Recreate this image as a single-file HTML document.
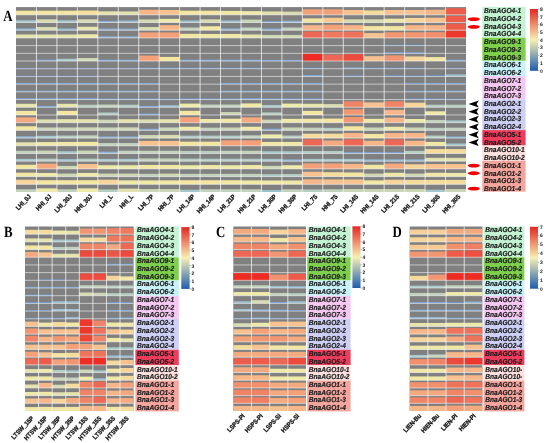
<!DOCTYPE html>
<html><head><meta charset="utf-8"><style>
html,body{margin:0;padding:0;background:#fff;}
body{width:550px;height:443px;overflow:hidden;}
svg{display:block;will-change:transform;text-rendering:geometricPrecision;}
.gl{font-family:"Liberation Sans",sans-serif;font-style:italic;font-weight:bold;font-size:7.3px;fill:#1a1a1a;stroke:#1a1a1a;stroke-width:0.18px;}
.tk{font-family:"Liberation Sans",sans-serif;font-weight:bold;font-size:5.0px;fill:#222;}
.cl{font-family:"Liberation Sans",sans-serif;font-weight:bold;font-size:6.4px;fill:#111;stroke:#111;stroke-width:0.3px;}
.pl{font-family:"Liberation Serif",serif;font-weight:bold;font-size:15.5px;fill:#000;}
</style></head><body>
<svg width="550" height="443" viewBox="0 0 550 443">
<rect x="16.00" y="7.10" width="450.00" height="184.90" fill="#808080"/>
<rect x="16.00" y="10.70" width="20.45" height="4.11" fill="#f3e6a0"/>
<rect x="36.45" y="10.70" width="20.45" height="4.11" fill="#f3e6a0"/>
<rect x="56.91" y="10.70" width="20.45" height="4.11" fill="#f3e6a0"/>
<rect x="77.36" y="10.52" width="20.45" height="4.29" fill="#f5df9e"/>
<rect x="97.82" y="11.34" width="20.45" height="3.47" fill="#e5e4ac"/>
<rect x="118.27" y="11.43" width="20.45" height="3.38" fill="#e1e2ae"/>
<rect x="138.73" y="9.79" width="20.45" height="5.02" fill="#f7b688"/>
<rect x="159.18" y="9.97" width="20.45" height="4.84" fill="#f7c28f"/>
<rect x="179.64" y="10.70" width="20.45" height="4.11" fill="#f3e6a0"/>
<rect x="200.09" y="10.70" width="20.45" height="4.11" fill="#f3e6a0"/>
<rect x="220.55" y="10.88" width="20.45" height="3.92" fill="#f1e8a4"/>
<rect x="241.00" y="11.15" width="20.45" height="3.65" fill="#eeeaaa"/>
<rect x="261.45" y="11.43" width="20.45" height="3.38" fill="#e1e2ae"/>
<rect x="281.91" y="11.61" width="20.45" height="3.19" fill="#d8dcb0"/>
<rect x="302.36" y="9.33" width="20.45" height="5.47" fill="#f4a078"/>
<rect x="322.82" y="9.33" width="20.45" height="5.47" fill="#f4a078"/>
<rect x="343.27" y="9.97" width="20.45" height="4.84" fill="#f7c28f"/>
<rect x="363.73" y="10.42" width="20.45" height="4.38" fill="#f5dc9c"/>
<rect x="384.18" y="9.97" width="20.45" height="4.84" fill="#f7c28f"/>
<rect x="404.64" y="9.97" width="20.45" height="4.84" fill="#f7c28f"/>
<rect x="425.09" y="9.79" width="20.45" height="5.02" fill="#f7b688"/>
<rect x="445.55" y="8.23" width="20.45" height="6.57" fill="#ed5c4a"/>
<rect x="16.00" y="20.23" width="20.45" height="2.28" fill="#a6c8cc"/>
<rect x="36.45" y="19.31" width="20.45" height="3.19" fill="#d8dcb0"/>
<rect x="56.91" y="20.23" width="20.45" height="2.28" fill="#a6c8cc"/>
<rect x="77.36" y="19.31" width="20.45" height="3.19" fill="#d8dcb0"/>
<rect x="97.82" y="20.87" width="20.45" height="1.64" fill="#87add4"/>
<rect x="118.27" y="20.50" width="20.45" height="2.01" fill="#98bcd1"/>
<rect x="138.73" y="19.41" width="20.45" height="3.10" fill="#d4dab2"/>
<rect x="159.18" y="18.86" width="20.45" height="3.65" fill="#eeeaaa"/>
<rect x="179.64" y="20.41" width="20.45" height="2.10" fill="#9dc0cf"/>
<rect x="200.09" y="19.31" width="20.45" height="3.19" fill="#d8dcb0"/>
<rect x="220.55" y="20.41" width="20.45" height="2.10" fill="#9dc0cf"/>
<rect x="241.00" y="19.59" width="20.45" height="2.92" fill="#cbd6b7"/>
<rect x="261.45" y="21.14" width="20.45" height="1.37" fill="#7aa2d4"/>
<rect x="281.91" y="20.68" width="20.45" height="1.82" fill="#8fb4d4"/>
<rect x="302.36" y="18.40" width="20.45" height="4.11" fill="#f3e6a0"/>
<rect x="322.82" y="17.76" width="20.45" height="4.75" fill="#f7c993"/>
<rect x="343.27" y="19.31" width="20.45" height="3.19" fill="#d8dcb0"/>
<rect x="363.73" y="19.31" width="20.45" height="3.19" fill="#d8dcb0"/>
<rect x="384.18" y="18.68" width="20.45" height="3.83" fill="#f0e8a6"/>
<rect x="404.64" y="17.95" width="20.45" height="4.56" fill="#f7d59a"/>
<rect x="425.09" y="17.67" width="20.45" height="4.84" fill="#f7c28f"/>
<rect x="445.55" y="15.94" width="20.45" height="6.57" fill="#ed5c4a"/>
<rect x="16.00" y="28.39" width="20.45" height="1.82" fill="#8fb4d4"/>
<rect x="36.45" y="27.02" width="20.45" height="3.19" fill="#d8dcb0"/>
<rect x="56.91" y="28.39" width="20.45" height="1.82" fill="#8fb4d4"/>
<rect x="77.36" y="26.74" width="20.45" height="3.47" fill="#e5e4ac"/>
<rect x="97.82" y="28.57" width="20.45" height="1.64" fill="#87add4"/>
<rect x="118.27" y="28.57" width="20.45" height="1.64" fill="#87add4"/>
<rect x="138.73" y="27.02" width="20.45" height="3.19" fill="#d8dcb0"/>
<rect x="159.18" y="25.19" width="20.45" height="5.02" fill="#f7b688"/>
<rect x="179.64" y="27.47" width="20.45" height="2.74" fill="#c2d2bc"/>
<rect x="200.09" y="26.29" width="20.45" height="3.92" fill="#f1e8a4"/>
<rect x="220.55" y="28.39" width="20.45" height="1.82" fill="#8fb4d4"/>
<rect x="241.00" y="27.47" width="20.45" height="2.74" fill="#c2d2bc"/>
<rect x="261.45" y="28.57" width="20.45" height="1.64" fill="#87add4"/>
<rect x="281.91" y="27.47" width="20.45" height="2.74" fill="#c2d2bc"/>
<rect x="302.36" y="25.19" width="20.45" height="5.02" fill="#f7b688"/>
<rect x="322.82" y="24.74" width="20.45" height="5.47" fill="#f4a078"/>
<rect x="343.27" y="25.19" width="20.45" height="5.02" fill="#f7b688"/>
<rect x="363.73" y="26.11" width="20.45" height="4.11" fill="#f3e6a0"/>
<rect x="384.18" y="26.11" width="20.45" height="4.11" fill="#f3e6a0"/>
<rect x="404.64" y="25.19" width="20.45" height="5.02" fill="#f7b688"/>
<rect x="425.09" y="25.19" width="20.45" height="5.02" fill="#f7b688"/>
<rect x="445.55" y="23.64" width="20.45" height="6.57" fill="#ed5c4a"/>
<rect x="16.00" y="34.45" width="20.45" height="3.47" fill="#e5e4ac"/>
<rect x="36.45" y="34.45" width="20.45" height="3.47" fill="#e5e4ac"/>
<rect x="56.91" y="34.45" width="20.45" height="3.47" fill="#e5e4ac"/>
<rect x="77.36" y="34.27" width="20.45" height="3.65" fill="#eeeaaa"/>
<rect x="97.82" y="36.27" width="20.45" height="1.64" fill="#87add4"/>
<rect x="118.27" y="36.27" width="20.45" height="1.64" fill="#87add4"/>
<rect x="138.73" y="32.44" width="20.45" height="5.47" fill="#f4a078"/>
<rect x="159.18" y="32.44" width="20.45" height="5.47" fill="#f4a078"/>
<rect x="179.64" y="33.81" width="20.45" height="4.11" fill="#f3e6a0"/>
<rect x="200.09" y="33.99" width="20.45" height="3.92" fill="#f1e8a4"/>
<rect x="220.55" y="33.99" width="20.45" height="3.92" fill="#f1e8a4"/>
<rect x="241.00" y="34.45" width="20.45" height="3.47" fill="#e5e4ac"/>
<rect x="261.45" y="34.91" width="20.45" height="3.01" fill="#cfd8b5"/>
<rect x="281.91" y="34.91" width="20.45" height="3.01" fill="#cfd8b5"/>
<rect x="302.36" y="31.53" width="20.45" height="6.39" fill="#ed6854"/>
<rect x="322.82" y="31.80" width="20.45" height="6.11" fill="#ef795f"/>
<rect x="343.27" y="31.71" width="20.45" height="6.21" fill="#ee735b"/>
<rect x="363.73" y="33.08" width="20.45" height="4.84" fill="#f7c28f"/>
<rect x="384.18" y="32.26" width="20.45" height="5.66" fill="#f29571"/>
<rect x="404.64" y="32.26" width="20.45" height="5.66" fill="#f29571"/>
<rect x="425.09" y="32.17" width="20.45" height="5.75" fill="#f28f6d"/>
<rect x="445.55" y="30.80" width="20.45" height="7.12" fill="#ed382e"/>
<rect x="384.18" y="44.71" width="20.45" height="0.91" fill="#5a88c8"/>
<rect x="404.64" y="44.71" width="20.45" height="0.91" fill="#5a88c8"/>
<rect x="384.18" y="52.14" width="20.45" height="1.19" fill="#6d98cf"/>
<rect x="404.64" y="52.14" width="20.45" height="1.19" fill="#6d98cf"/>
<rect x="36.45" y="59.66" width="20.45" height="1.37" fill="#7aa2d4"/>
<rect x="56.91" y="58.75" width="20.45" height="2.28" fill="#a6c8cc"/>
<rect x="77.36" y="58.02" width="20.45" height="3.01" fill="#cfd8b5"/>
<rect x="97.82" y="59.66" width="20.45" height="1.37" fill="#7aa2d4"/>
<rect x="118.27" y="59.66" width="20.45" height="1.37" fill="#7aa2d4"/>
<rect x="138.73" y="55.55" width="20.45" height="5.47" fill="#f4a078"/>
<rect x="159.18" y="56.92" width="20.45" height="4.11" fill="#f3e6a0"/>
<rect x="179.64" y="59.66" width="20.45" height="1.37" fill="#7aa2d4"/>
<rect x="200.09" y="59.66" width="20.45" height="1.37" fill="#7aa2d4"/>
<rect x="220.55" y="59.66" width="20.45" height="1.37" fill="#7aa2d4"/>
<rect x="241.00" y="59.66" width="20.45" height="1.37" fill="#7aa2d4"/>
<rect x="261.45" y="59.84" width="20.45" height="1.19" fill="#6d98cf"/>
<rect x="281.91" y="59.84" width="20.45" height="1.19" fill="#6d98cf"/>
<rect x="302.36" y="53.73" width="20.45" height="7.30" fill="#ee2c24"/>
<rect x="322.82" y="54.64" width="20.45" height="6.39" fill="#ed6854"/>
<rect x="343.27" y="54.19" width="20.45" height="6.84" fill="#ec4a3c"/>
<rect x="363.73" y="56.19" width="20.45" height="4.84" fill="#f7c28f"/>
<rect x="384.18" y="55.37" width="20.45" height="5.66" fill="#f29571"/>
<rect x="404.64" y="56.47" width="20.45" height="4.56" fill="#f7d59a"/>
<rect x="425.09" y="57.11" width="20.45" height="3.92" fill="#f1e8a4"/>
<rect x="445.55" y="59.66" width="20.45" height="1.37" fill="#7aa2d4"/>
<rect x="16.00" y="67.91" width="20.45" height="0.82" fill="#5584c5"/>
<rect x="36.45" y="67.91" width="20.45" height="0.82" fill="#5584c5"/>
<rect x="56.91" y="67.91" width="20.45" height="0.82" fill="#5584c5"/>
<rect x="77.36" y="67.91" width="20.45" height="0.82" fill="#5584c5"/>
<rect x="97.82" y="67.91" width="20.45" height="0.82" fill="#5584c5"/>
<rect x="118.27" y="67.91" width="20.45" height="0.82" fill="#5584c5"/>
<rect x="138.73" y="67.64" width="20.45" height="1.09" fill="#6792cd"/>
<rect x="159.18" y="67.64" width="20.45" height="1.09" fill="#6792cd"/>
<rect x="179.64" y="67.73" width="20.45" height="1.00" fill="#608dca"/>
<rect x="200.09" y="67.73" width="20.45" height="1.00" fill="#608dca"/>
<rect x="220.55" y="67.73" width="20.45" height="1.00" fill="#608dca"/>
<rect x="241.00" y="67.73" width="20.45" height="1.00" fill="#608dca"/>
<rect x="302.36" y="67.73" width="20.45" height="1.00" fill="#608dca"/>
<rect x="343.27" y="67.36" width="20.45" height="1.37" fill="#7aa2d4"/>
<rect x="363.73" y="67.73" width="20.45" height="1.00" fill="#608dca"/>
<rect x="384.18" y="67.73" width="20.45" height="1.00" fill="#608dca"/>
<rect x="404.64" y="67.73" width="20.45" height="1.00" fill="#608dca"/>
<rect x="445.55" y="67.82" width="20.45" height="0.91" fill="#5a88c8"/>
<rect x="16.00" y="75.62" width="20.45" height="0.82" fill="#5584c5"/>
<rect x="36.45" y="75.62" width="20.45" height="0.82" fill="#5584c5"/>
<rect x="56.91" y="75.62" width="20.45" height="0.82" fill="#5584c5"/>
<rect x="77.36" y="75.62" width="20.45" height="0.82" fill="#5584c5"/>
<rect x="302.36" y="74.98" width="20.45" height="1.46" fill="#7ea6d4"/>
<rect x="343.27" y="75.34" width="20.45" height="1.09" fill="#6792cd"/>
<rect x="384.18" y="75.34" width="20.45" height="1.09" fill="#6792cd"/>
<rect x="404.64" y="75.53" width="20.45" height="0.91" fill="#5a88c8"/>
<rect x="425.09" y="75.34" width="20.45" height="1.09" fill="#6792cd"/>
<rect x="445.55" y="74.34" width="20.45" height="2.10" fill="#9dc0cf"/>
<rect x="16.00" y="82.96" width="20.45" height="1.19" fill="#6d98cf"/>
<rect x="36.45" y="82.96" width="20.45" height="1.19" fill="#6d98cf"/>
<rect x="56.91" y="82.96" width="20.45" height="1.19" fill="#6d98cf"/>
<rect x="77.36" y="82.96" width="20.45" height="1.19" fill="#6d98cf"/>
<rect x="97.82" y="82.96" width="20.45" height="1.19" fill="#6d98cf"/>
<rect x="118.27" y="82.96" width="20.45" height="1.19" fill="#6d98cf"/>
<rect x="138.73" y="82.96" width="20.45" height="1.19" fill="#6d98cf"/>
<rect x="220.55" y="82.96" width="20.45" height="1.19" fill="#6d98cf"/>
<rect x="241.00" y="82.96" width="20.45" height="1.19" fill="#6d98cf"/>
<rect x="261.45" y="82.96" width="20.45" height="1.19" fill="#6d98cf"/>
<rect x="281.91" y="82.96" width="20.45" height="1.19" fill="#6d98cf"/>
<rect x="302.36" y="82.96" width="20.45" height="1.19" fill="#6d98cf"/>
<rect x="404.64" y="83.05" width="20.45" height="1.09" fill="#6792cd"/>
<rect x="425.09" y="82.96" width="20.45" height="1.19" fill="#6d98cf"/>
<rect x="445.55" y="82.96" width="20.45" height="1.19" fill="#6d98cf"/>
<rect x="16.00" y="90.66" width="20.45" height="1.19" fill="#6d98cf"/>
<rect x="36.45" y="90.66" width="20.45" height="1.19" fill="#6d98cf"/>
<rect x="56.91" y="90.66" width="20.45" height="1.19" fill="#6d98cf"/>
<rect x="77.36" y="90.66" width="20.45" height="1.19" fill="#6d98cf"/>
<rect x="97.82" y="90.66" width="20.45" height="1.19" fill="#6d98cf"/>
<rect x="118.27" y="90.66" width="20.45" height="1.19" fill="#6d98cf"/>
<rect x="138.73" y="90.66" width="20.45" height="1.19" fill="#6d98cf"/>
<rect x="220.55" y="90.66" width="20.45" height="1.19" fill="#6d98cf"/>
<rect x="241.00" y="90.66" width="20.45" height="1.19" fill="#6d98cf"/>
<rect x="261.45" y="90.66" width="20.45" height="1.19" fill="#6d98cf"/>
<rect x="281.91" y="90.66" width="20.45" height="1.19" fill="#6d98cf"/>
<rect x="302.36" y="90.66" width="20.45" height="1.19" fill="#6d98cf"/>
<rect x="404.64" y="90.75" width="20.45" height="1.09" fill="#6792cd"/>
<rect x="425.09" y="90.66" width="20.45" height="1.19" fill="#6d98cf"/>
<rect x="445.55" y="90.66" width="20.45" height="1.19" fill="#6d98cf"/>
<rect x="16.00" y="98.18" width="20.45" height="1.37" fill="#7aa2d4"/>
<rect x="36.45" y="98.18" width="20.45" height="1.37" fill="#7aa2d4"/>
<rect x="56.91" y="98.18" width="20.45" height="1.37" fill="#7aa2d4"/>
<rect x="77.36" y="98.18" width="20.45" height="1.37" fill="#7aa2d4"/>
<rect x="97.82" y="98.36" width="20.45" height="1.19" fill="#6d98cf"/>
<rect x="118.27" y="98.36" width="20.45" height="1.19" fill="#6d98cf"/>
<rect x="138.73" y="98.36" width="20.45" height="1.19" fill="#6d98cf"/>
<rect x="159.18" y="98.64" width="20.45" height="0.91" fill="#5a88c8"/>
<rect x="179.64" y="98.36" width="20.45" height="1.19" fill="#6d98cf"/>
<rect x="200.09" y="98.36" width="20.45" height="1.19" fill="#6d98cf"/>
<rect x="220.55" y="98.36" width="20.45" height="1.19" fill="#6d98cf"/>
<rect x="241.00" y="98.18" width="20.45" height="1.37" fill="#7aa2d4"/>
<rect x="261.45" y="98.36" width="20.45" height="1.19" fill="#6d98cf"/>
<rect x="281.91" y="98.36" width="20.45" height="1.19" fill="#6d98cf"/>
<rect x="302.36" y="98.36" width="20.45" height="1.19" fill="#6d98cf"/>
<rect x="404.64" y="98.45" width="20.45" height="1.09" fill="#6792cd"/>
<rect x="425.09" y="98.45" width="20.45" height="1.09" fill="#6792cd"/>
<rect x="445.55" y="98.64" width="20.45" height="0.91" fill="#5a88c8"/>
<rect x="16.00" y="103.79" width="20.45" height="3.47" fill="#e5e4ac"/>
<rect x="36.45" y="105.89" width="20.45" height="1.37" fill="#7aa2d4"/>
<rect x="56.91" y="103.79" width="20.45" height="3.47" fill="#e5e4ac"/>
<rect x="77.36" y="104.70" width="20.45" height="2.55" fill="#b7cec2"/>
<rect x="97.82" y="104.52" width="20.45" height="2.74" fill="#c2d2bc"/>
<rect x="118.27" y="104.70" width="20.45" height="2.55" fill="#b7cec2"/>
<rect x="138.73" y="105.89" width="20.45" height="1.37" fill="#7aa2d4"/>
<rect x="159.18" y="105.16" width="20.45" height="2.10" fill="#9dc0cf"/>
<rect x="179.64" y="103.60" width="20.45" height="3.65" fill="#eeeaaa"/>
<rect x="200.09" y="104.52" width="20.45" height="2.74" fill="#c2d2bc"/>
<rect x="220.55" y="104.52" width="20.45" height="2.74" fill="#c2d2bc"/>
<rect x="241.00" y="103.42" width="20.45" height="3.83" fill="#f0e8a6"/>
<rect x="261.45" y="104.97" width="20.45" height="2.28" fill="#a6c8cc"/>
<rect x="281.91" y="103.60" width="20.45" height="3.65" fill="#eeeaaa"/>
<rect x="302.36" y="103.79" width="20.45" height="3.47" fill="#e5e4ac"/>
<rect x="322.82" y="104.06" width="20.45" height="3.19" fill="#d8dcb0"/>
<rect x="343.27" y="101.32" width="20.45" height="5.93" fill="#f08466"/>
<rect x="363.73" y="102.42" width="20.45" height="4.84" fill="#f7c28f"/>
<rect x="384.18" y="101.32" width="20.45" height="5.93" fill="#f08466"/>
<rect x="404.64" y="102.69" width="20.45" height="4.56" fill="#f7d59a"/>
<rect x="425.09" y="104.70" width="20.45" height="2.55" fill="#b7cec2"/>
<rect x="445.55" y="104.70" width="20.45" height="2.55" fill="#b7cec2"/>
<rect x="16.00" y="110.85" width="20.45" height="4.11" fill="#f3e6a0"/>
<rect x="56.91" y="110.85" width="20.45" height="4.11" fill="#f3e6a0"/>
<rect x="97.82" y="112.49" width="20.45" height="2.46" fill="#b1ccc6"/>
<rect x="138.73" y="113.59" width="20.45" height="1.37" fill="#7aa2d4"/>
<rect x="179.64" y="110.85" width="20.45" height="4.11" fill="#f3e6a0"/>
<rect x="220.55" y="112.04" width="20.45" height="2.92" fill="#cbd6b7"/>
<rect x="261.45" y="112.40" width="20.45" height="2.55" fill="#b7cec2"/>
<rect x="302.36" y="110.85" width="20.45" height="4.11" fill="#f3e6a0"/>
<rect x="343.27" y="109.30" width="20.45" height="5.66" fill="#f29571"/>
<rect x="384.18" y="109.94" width="20.45" height="5.02" fill="#f7b688"/>
<rect x="425.09" y="111.31" width="20.45" height="3.65" fill="#eeeaaa"/>
<rect x="16.00" y="117.37" width="20.45" height="5.29" fill="#f5a97e"/>
<rect x="36.45" y="119.38" width="20.45" height="3.29" fill="#dcdfaf"/>
<rect x="56.91" y="119.19" width="20.45" height="3.47" fill="#e5e4ac"/>
<rect x="77.36" y="119.19" width="20.45" height="3.47" fill="#e5e4ac"/>
<rect x="97.82" y="119.65" width="20.45" height="3.01" fill="#cfd8b5"/>
<rect x="118.27" y="119.19" width="20.45" height="3.47" fill="#e5e4ac"/>
<rect x="138.73" y="119.38" width="20.45" height="3.29" fill="#dcdfaf"/>
<rect x="159.18" y="119.19" width="20.45" height="3.47" fill="#e5e4ac"/>
<rect x="179.64" y="117.19" width="20.45" height="5.47" fill="#f4a078"/>
<rect x="200.09" y="119.01" width="20.45" height="3.65" fill="#eeeaaa"/>
<rect x="220.55" y="118.74" width="20.45" height="3.92" fill="#f1e8a4"/>
<rect x="241.00" y="117.37" width="20.45" height="5.29" fill="#f5a97e"/>
<rect x="261.45" y="119.65" width="20.45" height="3.01" fill="#cfd8b5"/>
<rect x="281.91" y="118.83" width="20.45" height="3.83" fill="#f0e8a6"/>
<rect x="302.36" y="118.74" width="20.45" height="3.92" fill="#f1e8a4"/>
<rect x="322.82" y="118.56" width="20.45" height="4.11" fill="#f3e6a0"/>
<rect x="343.27" y="117.00" width="20.45" height="5.66" fill="#f29571"/>
<rect x="363.73" y="118.83" width="20.45" height="3.83" fill="#f0e8a6"/>
<rect x="384.18" y="117.64" width="20.45" height="5.02" fill="#f7b688"/>
<rect x="404.64" y="119.01" width="20.45" height="3.65" fill="#eeeaaa"/>
<rect x="425.09" y="119.92" width="20.45" height="2.74" fill="#c2d2bc"/>
<rect x="445.55" y="120.38" width="20.45" height="2.28" fill="#a6c8cc"/>
<rect x="16.00" y="126.26" width="20.45" height="4.11" fill="#f3e6a0"/>
<rect x="36.45" y="127.45" width="20.45" height="2.92" fill="#cbd6b7"/>
<rect x="56.91" y="127.45" width="20.45" height="2.92" fill="#cbd6b7"/>
<rect x="77.36" y="127.36" width="20.45" height="3.01" fill="#cfd8b5"/>
<rect x="97.82" y="127.45" width="20.45" height="2.92" fill="#cbd6b7"/>
<rect x="118.27" y="127.36" width="20.45" height="3.01" fill="#cfd8b5"/>
<rect x="138.73" y="128.72" width="20.45" height="1.64" fill="#87add4"/>
<rect x="159.18" y="127.45" width="20.45" height="2.92" fill="#cbd6b7"/>
<rect x="179.64" y="126.72" width="20.45" height="3.65" fill="#eeeaaa"/>
<rect x="200.09" y="127.63" width="20.45" height="2.74" fill="#c2d2bc"/>
<rect x="220.55" y="127.45" width="20.45" height="2.92" fill="#cbd6b7"/>
<rect x="241.00" y="126.72" width="20.45" height="3.65" fill="#eeeaaa"/>
<rect x="261.45" y="128.72" width="20.45" height="1.64" fill="#87add4"/>
<rect x="281.91" y="127.45" width="20.45" height="2.92" fill="#cbd6b7"/>
<rect x="302.36" y="127.63" width="20.45" height="2.74" fill="#c2d2bc"/>
<rect x="322.82" y="127.81" width="20.45" height="2.55" fill="#b7cec2"/>
<rect x="343.27" y="126.26" width="20.45" height="4.11" fill="#f3e6a0"/>
<rect x="363.73" y="127.45" width="20.45" height="2.92" fill="#cbd6b7"/>
<rect x="384.18" y="126.72" width="20.45" height="3.65" fill="#eeeaaa"/>
<rect x="404.64" y="127.45" width="20.45" height="2.92" fill="#cbd6b7"/>
<rect x="425.09" y="127.81" width="20.45" height="2.55" fill="#b7cec2"/>
<rect x="445.55" y="127.63" width="20.45" height="2.74" fill="#c2d2bc"/>
<rect x="16.00" y="136.25" width="20.45" height="1.82" fill="#8fb4d4"/>
<rect x="36.45" y="135.79" width="20.45" height="2.28" fill="#a6c8cc"/>
<rect x="56.91" y="135.52" width="20.45" height="2.55" fill="#b7cec2"/>
<rect x="77.36" y="135.33" width="20.45" height="2.74" fill="#c2d2bc"/>
<rect x="97.82" y="136.43" width="20.45" height="1.64" fill="#87add4"/>
<rect x="118.27" y="136.43" width="20.45" height="1.64" fill="#87add4"/>
<rect x="138.73" y="135.06" width="20.45" height="3.01" fill="#cfd8b5"/>
<rect x="159.18" y="134.88" width="20.45" height="3.19" fill="#d8dcb0"/>
<rect x="179.64" y="135.61" width="20.45" height="2.46" fill="#b1ccc6"/>
<rect x="200.09" y="135.61" width="20.45" height="2.46" fill="#b1ccc6"/>
<rect x="220.55" y="135.61" width="20.45" height="2.46" fill="#b1ccc6"/>
<rect x="241.00" y="135.33" width="20.45" height="2.74" fill="#c2d2bc"/>
<rect x="261.45" y="134.42" width="20.45" height="3.65" fill="#eeeaaa"/>
<rect x="281.91" y="135.52" width="20.45" height="2.55" fill="#b7cec2"/>
<rect x="302.36" y="133.69" width="20.45" height="4.38" fill="#f5dc9c"/>
<rect x="322.82" y="133.69" width="20.45" height="4.38" fill="#f5dc9c"/>
<rect x="343.27" y="133.05" width="20.45" height="5.02" fill="#f7b688"/>
<rect x="363.73" y="133.96" width="20.45" height="4.11" fill="#f3e6a0"/>
<rect x="384.18" y="133.05" width="20.45" height="5.02" fill="#f7b688"/>
<rect x="404.64" y="133.05" width="20.45" height="5.02" fill="#f7b688"/>
<rect x="425.09" y="135.52" width="20.45" height="2.55" fill="#b7cec2"/>
<rect x="445.55" y="136.43" width="20.45" height="1.64" fill="#87add4"/>
<rect x="16.00" y="142.31" width="20.45" height="3.47" fill="#e5e4ac"/>
<rect x="36.45" y="142.12" width="20.45" height="3.65" fill="#eeeaaa"/>
<rect x="56.91" y="141.94" width="20.45" height="3.83" fill="#f0e8a6"/>
<rect x="77.36" y="141.85" width="20.45" height="3.92" fill="#f1e8a4"/>
<rect x="97.82" y="143.04" width="20.45" height="2.74" fill="#c2d2bc"/>
<rect x="118.27" y="143.04" width="20.45" height="2.74" fill="#c2d2bc"/>
<rect x="138.73" y="140.94" width="20.45" height="4.84" fill="#f7c28f"/>
<rect x="159.18" y="140.94" width="20.45" height="4.84" fill="#f7c28f"/>
<rect x="179.64" y="141.67" width="20.45" height="4.11" fill="#f3e6a0"/>
<rect x="200.09" y="141.67" width="20.45" height="4.11" fill="#f3e6a0"/>
<rect x="220.55" y="140.30" width="20.45" height="5.47" fill="#f4a078"/>
<rect x="241.00" y="140.30" width="20.45" height="5.47" fill="#f4a078"/>
<rect x="261.45" y="141.94" width="20.45" height="3.83" fill="#f0e8a6"/>
<rect x="281.91" y="141.94" width="20.45" height="3.83" fill="#f0e8a6"/>
<rect x="302.36" y="139.39" width="20.45" height="6.39" fill="#ed6854"/>
<rect x="322.82" y="140.48" width="20.45" height="5.29" fill="#f5a97e"/>
<rect x="343.27" y="139.39" width="20.45" height="6.39" fill="#ed6854"/>
<rect x="363.73" y="140.76" width="20.45" height="5.02" fill="#f7b688"/>
<rect x="384.18" y="139.39" width="20.45" height="6.39" fill="#ed6854"/>
<rect x="404.64" y="140.76" width="20.45" height="5.02" fill="#f7b688"/>
<rect x="425.09" y="141.94" width="20.45" height="3.83" fill="#f0e8a6"/>
<rect x="445.55" y="143.49" width="20.45" height="2.28" fill="#a6c8cc"/>
<rect x="16.00" y="150.74" width="20.45" height="2.74" fill="#c2d2bc"/>
<rect x="36.45" y="150.56" width="20.45" height="2.92" fill="#cbd6b7"/>
<rect x="56.91" y="151.20" width="20.45" height="2.28" fill="#a6c8cc"/>
<rect x="77.36" y="150.56" width="20.45" height="2.92" fill="#cbd6b7"/>
<rect x="97.82" y="151.65" width="20.45" height="1.82" fill="#8fb4d4"/>
<rect x="118.27" y="150.74" width="20.45" height="2.74" fill="#c2d2bc"/>
<rect x="138.73" y="150.74" width="20.45" height="2.74" fill="#c2d2bc"/>
<rect x="159.18" y="150.74" width="20.45" height="2.74" fill="#c2d2bc"/>
<rect x="179.64" y="150.92" width="20.45" height="2.55" fill="#b7cec2"/>
<rect x="200.09" y="150.92" width="20.45" height="2.55" fill="#b7cec2"/>
<rect x="220.55" y="150.74" width="20.45" height="2.74" fill="#c2d2bc"/>
<rect x="241.00" y="150.74" width="20.45" height="2.74" fill="#c2d2bc"/>
<rect x="261.45" y="151.20" width="20.45" height="2.28" fill="#a6c8cc"/>
<rect x="281.91" y="151.20" width="20.45" height="2.28" fill="#a6c8cc"/>
<rect x="302.36" y="151.02" width="20.45" height="2.46" fill="#b1ccc6"/>
<rect x="322.82" y="151.02" width="20.45" height="2.46" fill="#b1ccc6"/>
<rect x="343.27" y="152.11" width="20.45" height="1.37" fill="#7aa2d4"/>
<rect x="363.73" y="152.11" width="20.45" height="1.37" fill="#7aa2d4"/>
<rect x="384.18" y="152.11" width="20.45" height="1.37" fill="#7aa2d4"/>
<rect x="404.64" y="150.92" width="20.45" height="2.55" fill="#b7cec2"/>
<rect x="425.09" y="149.10" width="20.45" height="4.38" fill="#f5dc9c"/>
<rect x="445.55" y="149.10" width="20.45" height="4.38" fill="#f5dc9c"/>
<rect x="16.00" y="158.90" width="20.45" height="2.28" fill="#a6c8cc"/>
<rect x="36.45" y="158.63" width="20.45" height="2.55" fill="#b7cec2"/>
<rect x="56.91" y="159.08" width="20.45" height="2.10" fill="#9dc0cf"/>
<rect x="77.36" y="158.63" width="20.45" height="2.55" fill="#b7cec2"/>
<rect x="97.82" y="158.90" width="20.45" height="2.28" fill="#a6c8cc"/>
<rect x="118.27" y="158.90" width="20.45" height="2.28" fill="#a6c8cc"/>
<rect x="138.73" y="158.45" width="20.45" height="2.74" fill="#c2d2bc"/>
<rect x="159.18" y="158.45" width="20.45" height="2.74" fill="#c2d2bc"/>
<rect x="179.64" y="158.63" width="20.45" height="2.55" fill="#b7cec2"/>
<rect x="200.09" y="158.72" width="20.45" height="2.46" fill="#b1ccc6"/>
<rect x="220.55" y="158.72" width="20.45" height="2.46" fill="#b1ccc6"/>
<rect x="241.00" y="158.72" width="20.45" height="2.46" fill="#b1ccc6"/>
<rect x="261.45" y="158.90" width="20.45" height="2.28" fill="#a6c8cc"/>
<rect x="281.91" y="159.36" width="20.45" height="1.82" fill="#8fb4d4"/>
<rect x="302.36" y="158.90" width="20.45" height="2.28" fill="#a6c8cc"/>
<rect x="322.82" y="158.90" width="20.45" height="2.28" fill="#a6c8cc"/>
<rect x="343.27" y="158.90" width="20.45" height="2.28" fill="#a6c8cc"/>
<rect x="363.73" y="159.36" width="20.45" height="1.82" fill="#8fb4d4"/>
<rect x="384.18" y="159.36" width="20.45" height="1.82" fill="#8fb4d4"/>
<rect x="404.64" y="159.36" width="20.45" height="1.82" fill="#8fb4d4"/>
<rect x="425.09" y="157.81" width="20.45" height="3.38" fill="#e1e2ae"/>
<rect x="445.55" y="157.81" width="20.45" height="3.38" fill="#e1e2ae"/>
<rect x="16.00" y="164.78" width="20.45" height="4.11" fill="#f3e6a0"/>
<rect x="36.45" y="163.59" width="20.45" height="5.29" fill="#f5a97e"/>
<rect x="56.91" y="165.88" width="20.45" height="3.01" fill="#cfd8b5"/>
<rect x="77.36" y="164.05" width="20.45" height="4.84" fill="#f7c28f"/>
<rect x="97.82" y="165.24" width="20.45" height="3.65" fill="#eeeaaa"/>
<rect x="118.27" y="165.24" width="20.45" height="3.65" fill="#eeeaaa"/>
<rect x="138.73" y="164.96" width="20.45" height="3.92" fill="#f1e8a4"/>
<rect x="159.18" y="164.96" width="20.45" height="3.92" fill="#f1e8a4"/>
<rect x="179.64" y="165.24" width="20.45" height="3.65" fill="#eeeaaa"/>
<rect x="200.09" y="165.05" width="20.45" height="3.83" fill="#f0e8a6"/>
<rect x="220.55" y="165.24" width="20.45" height="3.65" fill="#eeeaaa"/>
<rect x="241.00" y="165.05" width="20.45" height="3.83" fill="#f0e8a6"/>
<rect x="261.45" y="165.88" width="20.45" height="3.01" fill="#cfd8b5"/>
<rect x="281.91" y="165.24" width="20.45" height="3.65" fill="#eeeaaa"/>
<rect x="302.36" y="163.41" width="20.45" height="5.47" fill="#f4a078"/>
<rect x="322.82" y="163.41" width="20.45" height="5.47" fill="#f4a078"/>
<rect x="343.27" y="163.87" width="20.45" height="5.02" fill="#f7b688"/>
<rect x="363.73" y="164.78" width="20.45" height="4.11" fill="#f3e6a0"/>
<rect x="384.18" y="163.59" width="20.45" height="5.29" fill="#f5a97e"/>
<rect x="404.64" y="164.32" width="20.45" height="4.56" fill="#f7d59a"/>
<rect x="425.09" y="164.05" width="20.45" height="4.84" fill="#f7c28f"/>
<rect x="445.55" y="164.05" width="20.45" height="4.84" fill="#f7c28f"/>
<rect x="16.00" y="172.67" width="20.45" height="3.92" fill="#f1e8a4"/>
<rect x="36.45" y="172.94" width="20.45" height="3.65" fill="#eeeaaa"/>
<rect x="56.91" y="173.58" width="20.45" height="3.01" fill="#cfd8b5"/>
<rect x="77.36" y="172.94" width="20.45" height="3.65" fill="#eeeaaa"/>
<rect x="97.82" y="173.58" width="20.45" height="3.01" fill="#cfd8b5"/>
<rect x="118.27" y="173.58" width="20.45" height="3.01" fill="#cfd8b5"/>
<rect x="138.73" y="173.85" width="20.45" height="2.74" fill="#c2d2bc"/>
<rect x="159.18" y="173.58" width="20.45" height="3.01" fill="#cfd8b5"/>
<rect x="179.64" y="173.85" width="20.45" height="2.74" fill="#c2d2bc"/>
<rect x="200.09" y="173.85" width="20.45" height="2.74" fill="#c2d2bc"/>
<rect x="220.55" y="173.85" width="20.45" height="2.74" fill="#c2d2bc"/>
<rect x="241.00" y="173.85" width="20.45" height="2.74" fill="#c2d2bc"/>
<rect x="261.45" y="174.13" width="20.45" height="2.46" fill="#b1ccc6"/>
<rect x="281.91" y="174.04" width="20.45" height="2.55" fill="#b7cec2"/>
<rect x="302.36" y="171.76" width="20.45" height="4.84" fill="#f7c28f"/>
<rect x="322.82" y="172.21" width="20.45" height="4.38" fill="#f5dc9c"/>
<rect x="343.27" y="172.49" width="20.45" height="4.11" fill="#f3e6a0"/>
<rect x="363.73" y="173.58" width="20.45" height="3.01" fill="#cfd8b5"/>
<rect x="384.18" y="172.76" width="20.45" height="3.83" fill="#f0e8a6"/>
<rect x="404.64" y="173.58" width="20.45" height="3.01" fill="#cfd8b5"/>
<rect x="425.09" y="172.76" width="20.45" height="3.83" fill="#f0e8a6"/>
<rect x="445.55" y="172.94" width="20.45" height="3.65" fill="#eeeaaa"/>
<rect x="16.00" y="179.73" width="20.45" height="4.56" fill="#f7d59a"/>
<rect x="36.45" y="180.19" width="20.45" height="4.11" fill="#f3e6a0"/>
<rect x="56.91" y="180.19" width="20.45" height="4.11" fill="#f3e6a0"/>
<rect x="77.36" y="180.19" width="20.45" height="4.11" fill="#f3e6a0"/>
<rect x="97.82" y="179.73" width="20.45" height="4.56" fill="#f7d59a"/>
<rect x="118.27" y="180.37" width="20.45" height="3.92" fill="#f1e8a4"/>
<rect x="138.73" y="180.37" width="20.45" height="3.92" fill="#f1e8a4"/>
<rect x="159.18" y="180.37" width="20.45" height="3.92" fill="#f1e8a4"/>
<rect x="179.64" y="180.19" width="20.45" height="4.11" fill="#f3e6a0"/>
<rect x="200.09" y="180.19" width="20.45" height="4.11" fill="#f3e6a0"/>
<rect x="220.55" y="180.19" width="20.45" height="4.11" fill="#f3e6a0"/>
<rect x="241.00" y="180.37" width="20.45" height="3.92" fill="#f1e8a4"/>
<rect x="261.45" y="180.46" width="20.45" height="3.83" fill="#f0e8a6"/>
<rect x="281.91" y="180.46" width="20.45" height="3.83" fill="#f0e8a6"/>
<rect x="302.36" y="179.28" width="20.45" height="5.02" fill="#f7b688"/>
<rect x="322.82" y="179.46" width="20.45" height="4.84" fill="#f7c28f"/>
<rect x="343.27" y="179.46" width="20.45" height="4.84" fill="#f7c28f"/>
<rect x="363.73" y="180.37" width="20.45" height="3.92" fill="#f1e8a4"/>
<rect x="384.18" y="179.73" width="20.45" height="4.56" fill="#f7d59a"/>
<rect x="404.64" y="179.92" width="20.45" height="4.38" fill="#f5dc9c"/>
<rect x="425.09" y="179.92" width="20.45" height="4.38" fill="#f5dc9c"/>
<rect x="445.55" y="179.92" width="20.45" height="4.38" fill="#f5dc9c"/>
<rect x="16.00" y="189.26" width="20.45" height="2.74" fill="#c2d2bc"/>
<rect x="36.45" y="188.35" width="20.45" height="3.65" fill="#eeeaaa"/>
<rect x="56.91" y="189.26" width="20.45" height="2.74" fill="#c2d2bc"/>
<rect x="77.36" y="188.35" width="20.45" height="3.65" fill="#eeeaaa"/>
<rect x="97.82" y="189.44" width="20.45" height="2.55" fill="#b7cec2"/>
<rect x="118.27" y="188.62" width="20.45" height="3.38" fill="#e1e2ae"/>
<rect x="138.73" y="189.08" width="20.45" height="2.92" fill="#cbd6b7"/>
<rect x="159.18" y="189.08" width="20.45" height="2.92" fill="#cbd6b7"/>
<rect x="179.64" y="189.72" width="20.45" height="2.28" fill="#a6c8cc"/>
<rect x="200.09" y="189.26" width="20.45" height="2.74" fill="#c2d2bc"/>
<rect x="220.55" y="189.26" width="20.45" height="2.74" fill="#c2d2bc"/>
<rect x="241.00" y="189.26" width="20.45" height="2.74" fill="#c2d2bc"/>
<rect x="261.45" y="189.90" width="20.45" height="2.10" fill="#9dc0cf"/>
<rect x="281.91" y="189.26" width="20.45" height="2.74" fill="#c2d2bc"/>
<rect x="302.36" y="189.44" width="20.45" height="2.55" fill="#b7cec2"/>
<rect x="322.82" y="189.26" width="20.45" height="2.74" fill="#c2d2bc"/>
<rect x="343.27" y="189.08" width="20.45" height="2.92" fill="#cbd6b7"/>
<rect x="363.73" y="189.08" width="20.45" height="2.92" fill="#cbd6b7"/>
<rect x="384.18" y="189.08" width="20.45" height="2.92" fill="#cbd6b7"/>
<rect x="404.64" y="189.08" width="20.45" height="2.92" fill="#cbd6b7"/>
<rect x="425.09" y="189.72" width="20.45" height="2.28" fill="#a6c8cc"/>
<rect x="445.55" y="189.08" width="20.45" height="2.92" fill="#cbd6b7"/>
<line x1="16.00" x2="466.00" y1="14.80" y2="14.80" stroke="#fff" stroke-opacity="0.7" stroke-width="0.8"/>
<line x1="16.00" x2="466.00" y1="22.51" y2="22.51" stroke="#fff" stroke-opacity="0.7" stroke-width="0.8"/>
<line x1="16.00" x2="466.00" y1="30.21" y2="30.21" stroke="#fff" stroke-opacity="0.7" stroke-width="0.8"/>
<line x1="16.00" x2="466.00" y1="37.92" y2="37.92" stroke="#fff" stroke-opacity="0.7" stroke-width="0.8"/>
<line x1="16.00" x2="466.00" y1="45.62" y2="45.62" stroke="#fff" stroke-opacity="0.7" stroke-width="0.8"/>
<line x1="16.00" x2="466.00" y1="53.33" y2="53.33" stroke="#fff" stroke-opacity="0.7" stroke-width="0.8"/>
<line x1="16.00" x2="466.00" y1="61.03" y2="61.03" stroke="#fff" stroke-opacity="0.7" stroke-width="0.8"/>
<line x1="16.00" x2="466.00" y1="68.73" y2="68.73" stroke="#fff" stroke-opacity="0.7" stroke-width="0.8"/>
<line x1="16.00" x2="466.00" y1="76.44" y2="76.44" stroke="#fff" stroke-opacity="0.7" stroke-width="0.8"/>
<line x1="16.00" x2="466.00" y1="84.14" y2="84.14" stroke="#fff" stroke-opacity="0.7" stroke-width="0.8"/>
<line x1="16.00" x2="466.00" y1="91.85" y2="91.85" stroke="#fff" stroke-opacity="0.7" stroke-width="0.8"/>
<line x1="16.00" x2="466.00" y1="99.55" y2="99.55" stroke="#fff" stroke-opacity="0.7" stroke-width="0.8"/>
<line x1="16.00" x2="466.00" y1="107.25" y2="107.25" stroke="#fff" stroke-opacity="0.7" stroke-width="0.8"/>
<line x1="16.00" x2="466.00" y1="114.96" y2="114.96" stroke="#fff" stroke-opacity="0.7" stroke-width="0.8"/>
<line x1="16.00" x2="466.00" y1="122.66" y2="122.66" stroke="#fff" stroke-opacity="0.7" stroke-width="0.8"/>
<line x1="16.00" x2="466.00" y1="130.37" y2="130.37" stroke="#fff" stroke-opacity="0.7" stroke-width="0.8"/>
<line x1="16.00" x2="466.00" y1="138.07" y2="138.07" stroke="#fff" stroke-opacity="0.7" stroke-width="0.8"/>
<line x1="16.00" x2="466.00" y1="145.78" y2="145.78" stroke="#fff" stroke-opacity="0.7" stroke-width="0.8"/>
<line x1="16.00" x2="466.00" y1="153.48" y2="153.48" stroke="#fff" stroke-opacity="0.7" stroke-width="0.8"/>
<line x1="16.00" x2="466.00" y1="161.18" y2="161.18" stroke="#fff" stroke-opacity="0.7" stroke-width="0.8"/>
<line x1="16.00" x2="466.00" y1="168.89" y2="168.89" stroke="#fff" stroke-opacity="0.7" stroke-width="0.8"/>
<line x1="16.00" x2="466.00" y1="176.59" y2="176.59" stroke="#fff" stroke-opacity="0.7" stroke-width="0.8"/>
<line x1="16.00" x2="466.00" y1="184.30" y2="184.30" stroke="#fff" stroke-opacity="0.7" stroke-width="0.8"/>
<line x1="36.45" x2="36.45" y1="7.10" y2="192.00" stroke="#fff" stroke-opacity="0.8" stroke-width="0.9"/>
<line x1="56.91" x2="56.91" y1="7.10" y2="192.00" stroke="#fff" stroke-opacity="0.8" stroke-width="0.9"/>
<line x1="77.36" x2="77.36" y1="7.10" y2="192.00" stroke="#fff" stroke-opacity="0.8" stroke-width="0.9"/>
<line x1="97.82" x2="97.82" y1="7.10" y2="192.00" stroke="#fff" stroke-opacity="0.8" stroke-width="0.9"/>
<line x1="118.27" x2="118.27" y1="7.10" y2="192.00" stroke="#fff" stroke-opacity="0.8" stroke-width="0.9"/>
<line x1="138.73" x2="138.73" y1="7.10" y2="192.00" stroke="#fff" stroke-opacity="0.8" stroke-width="0.9"/>
<line x1="159.18" x2="159.18" y1="7.10" y2="192.00" stroke="#fff" stroke-opacity="0.8" stroke-width="0.9"/>
<line x1="179.64" x2="179.64" y1="7.10" y2="192.00" stroke="#fff" stroke-opacity="0.8" stroke-width="0.9"/>
<line x1="200.09" x2="200.09" y1="7.10" y2="192.00" stroke="#fff" stroke-opacity="0.8" stroke-width="0.9"/>
<line x1="220.55" x2="220.55" y1="7.10" y2="192.00" stroke="#fff" stroke-opacity="0.8" stroke-width="0.9"/>
<line x1="241.00" x2="241.00" y1="7.10" y2="192.00" stroke="#fff" stroke-opacity="0.8" stroke-width="0.9"/>
<line x1="261.45" x2="261.45" y1="7.10" y2="192.00" stroke="#fff" stroke-opacity="0.8" stroke-width="0.9"/>
<line x1="281.91" x2="281.91" y1="7.10" y2="192.00" stroke="#fff" stroke-opacity="0.8" stroke-width="0.9"/>
<line x1="302.36" x2="302.36" y1="7.10" y2="192.00" stroke="#fff" stroke-opacity="0.8" stroke-width="0.9"/>
<line x1="322.82" x2="322.82" y1="7.10" y2="192.00" stroke="#fff" stroke-opacity="0.8" stroke-width="0.9"/>
<line x1="343.27" x2="343.27" y1="7.10" y2="192.00" stroke="#fff" stroke-opacity="0.8" stroke-width="0.9"/>
<line x1="363.73" x2="363.73" y1="7.10" y2="192.00" stroke="#fff" stroke-opacity="0.8" stroke-width="0.9"/>
<line x1="384.18" x2="384.18" y1="7.10" y2="192.00" stroke="#fff" stroke-opacity="0.8" stroke-width="0.9"/>
<line x1="404.64" x2="404.64" y1="7.10" y2="192.00" stroke="#fff" stroke-opacity="0.8" stroke-width="0.9"/>
<line x1="425.09" x2="425.09" y1="7.10" y2="192.00" stroke="#fff" stroke-opacity="0.8" stroke-width="0.9"/>
<line x1="445.55" x2="445.55" y1="7.10" y2="192.00" stroke="#fff" stroke-opacity="0.8" stroke-width="0.9"/>
<rect x="482.30" y="6.90" width="43.30" height="30.80" fill="#c4f3d3"/>
<rect x="482.30" y="37.70" width="43.30" height="23.10" fill="#7fcf4e"/>
<rect x="482.30" y="60.80" width="43.30" height="15.40" fill="#c6f2f8"/>
<rect x="482.30" y="76.20" width="43.30" height="23.10" fill="#f5c8f1"/>
<rect x="482.30" y="99.30" width="43.30" height="30.80" fill="#cdcff4"/>
<rect x="482.30" y="130.10" width="43.30" height="15.40" fill="#ee3c5c"/>
<rect x="482.30" y="145.50" width="43.30" height="15.40" fill="#fce1de"/>
<rect x="482.30" y="160.90" width="43.30" height="30.80" fill="#f4a59d"/>
<text x="0" y="0" transform="translate(484.00,13.30) scale(0.905,1)" class="gl">BnaAGO4-1</text>
<text x="0" y="0" transform="translate(484.00,21.03) scale(0.905,1)" class="gl">BnaAGO4-2</text>
<text x="0" y="0" transform="translate(484.00,28.75) scale(0.905,1)" class="gl">BnaAGO4-3</text>
<text x="0" y="0" transform="translate(484.00,36.48) scale(0.905,1)" class="gl">BnaAGO4-4</text>
<text x="0" y="0" transform="translate(484.00,44.20) scale(0.905,1)" class="gl">BnaAGO9-1</text>
<text x="0" y="0" transform="translate(484.00,51.93) scale(0.905,1)" class="gl">BnaAGO9-2</text>
<text x="0" y="0" transform="translate(484.00,59.66) scale(0.905,1)" class="gl">BnaAGO9-3</text>
<text x="0" y="0" transform="translate(484.00,67.38) scale(0.905,1)" class="gl">BnaAGO6-1</text>
<text x="0" y="0" transform="translate(484.00,75.11) scale(0.905,1)" class="gl">BnaAGO6-2</text>
<text x="0" y="0" transform="translate(484.00,82.83) scale(0.905,1)" class="gl">BnaAGO7-1</text>
<text x="0" y="0" transform="translate(484.00,90.56) scale(0.905,1)" class="gl">BnaAGO7-2</text>
<text x="0" y="0" transform="translate(484.00,98.29) scale(0.905,1)" class="gl">BnaAGO7-3</text>
<text x="0" y="0" transform="translate(484.00,106.01) scale(0.905,1)" class="gl">BnaAGO2-1</text>
<text x="0" y="0" transform="translate(484.00,113.74) scale(0.905,1)" class="gl">BnaAGO2-2</text>
<text x="0" y="0" transform="translate(484.00,121.46) scale(0.905,1)" class="gl">BnaAGO2-3</text>
<text x="0" y="0" transform="translate(484.00,129.19) scale(0.905,1)" class="gl">BnaAGO2-4</text>
<text x="0" y="0" transform="translate(484.00,136.92) scale(0.905,1)" class="gl">BnaAGO5-1</text>
<text x="0" y="0" transform="translate(484.00,144.64) scale(0.905,1)" class="gl">BnaAGO5-2</text>
<text x="0" y="0" transform="translate(484.00,152.37) scale(0.905,1)" class="gl">BnaAGO10-1</text>
<text x="0" y="0" transform="translate(484.00,160.09) scale(0.905,1)" class="gl">BnaAGO10-2</text>
<text x="0" y="0" transform="translate(484.00,167.82) scale(0.905,1)" class="gl">BnaAGO1-1</text>
<text x="0" y="0" transform="translate(484.00,175.55) scale(0.905,1)" class="gl">BnaAGO1-2</text>
<text x="0" y="0" transform="translate(484.00,183.27) scale(0.905,1)" class="gl">BnaAGO1-3</text>
<text x="0" y="0" transform="translate(484.00,191.00) scale(0.905,1)" class="gl">BnaAGO1-4</text>
<defs><linearGradient id="gA" x1="0" y1="1" x2="0" y2="0">
<stop offset="0.0000" stop-color="#1c5cb0"/>
<stop offset="0.1250" stop-color="#5281b0"/>
<stop offset="0.2500" stop-color="#89a6b1"/>
<stop offset="0.3750" stop-color="#c0cbb2"/>
<stop offset="0.5000" stop-color="#f6f0b2"/>
<stop offset="0.6250" stop-color="#f2be8e"/>
<stop offset="0.7500" stop-color="#ed8c6b"/>
<stop offset="0.8750" stop-color="#e85a48"/>
<stop offset="1.0000" stop-color="#e42824"/>
</linearGradient></defs>
<rect x="530.00" y="9.00" width="8.00" height="61.80" fill="url(#gA)"/>
<line x1="538.00" x2="539.20" y1="70.80" y2="70.80" stroke="#333" stroke-width="0.4"/>
<text x="540.00" y="72.60" class="tk">0</text>
<line x1="538.00" x2="539.20" y1="63.07" y2="63.07" stroke="#333" stroke-width="0.4"/>
<text x="540.00" y="64.88" class="tk">1</text>
<line x1="538.00" x2="539.20" y1="55.35" y2="55.35" stroke="#333" stroke-width="0.4"/>
<text x="540.00" y="57.15" class="tk">2</text>
<line x1="538.00" x2="539.20" y1="47.62" y2="47.62" stroke="#333" stroke-width="0.4"/>
<text x="540.00" y="49.42" class="tk">3</text>
<line x1="538.00" x2="539.20" y1="39.90" y2="39.90" stroke="#333" stroke-width="0.4"/>
<text x="540.00" y="41.70" class="tk">4</text>
<line x1="538.00" x2="539.20" y1="32.17" y2="32.17" stroke="#333" stroke-width="0.4"/>
<text x="540.00" y="33.97" class="tk">5</text>
<line x1="538.00" x2="539.20" y1="24.45" y2="24.45" stroke="#333" stroke-width="0.4"/>
<text x="540.00" y="26.25" class="tk">6</text>
<line x1="538.00" x2="539.20" y1="16.73" y2="16.73" stroke="#333" stroke-width="0.4"/>
<text x="540.00" y="18.53" class="tk">7</text>
<line x1="538.00" x2="539.20" y1="9.00" y2="9.00" stroke="#333" stroke-width="0.4"/>
<text x="540.00" y="10.80" class="tk">8</text>
<text transform="translate(31.43,196.90) rotate(-46.5) scale(0.9,1)" text-anchor="end" class="cl">LHI_0J</text>
<text transform="translate(51.88,196.90) rotate(-46.5) scale(0.9,1)" text-anchor="end" class="cl">HHI_0J</text>
<text transform="translate(72.34,196.90) rotate(-46.5) scale(0.9,1)" text-anchor="end" class="cl">LHI_30J</text>
<text transform="translate(92.79,196.90) rotate(-46.5) scale(0.9,1)" text-anchor="end" class="cl">HHI_30J</text>
<text transform="translate(113.25,196.90) rotate(-46.5) scale(0.9,1)" text-anchor="end" class="cl">LHI_L</text>
<text transform="translate(133.70,196.90) rotate(-46.5) scale(0.9,1)" text-anchor="end" class="cl">HHI_L</text>
<text transform="translate(154.15,196.90) rotate(-46.5) scale(0.9,1)" text-anchor="end" class="cl">LHI_7P</text>
<text transform="translate(174.61,196.90) rotate(-46.5) scale(0.9,1)" text-anchor="end" class="cl">HHI_7P</text>
<text transform="translate(195.06,196.90) rotate(-46.5) scale(0.9,1)" text-anchor="end" class="cl">LHI_14P</text>
<text transform="translate(215.52,196.90) rotate(-46.5) scale(0.9,1)" text-anchor="end" class="cl">HHI_14P</text>
<text transform="translate(235.97,196.90) rotate(-46.5) scale(0.9,1)" text-anchor="end" class="cl">LHI_21P</text>
<text transform="translate(256.43,196.90) rotate(-46.5) scale(0.9,1)" text-anchor="end" class="cl">HHI_21P</text>
<text transform="translate(276.88,196.90) rotate(-46.5) scale(0.9,1)" text-anchor="end" class="cl">LHI_30P</text>
<text transform="translate(297.34,196.90) rotate(-46.5) scale(0.9,1)" text-anchor="end" class="cl">HHI_30P</text>
<text transform="translate(317.79,196.90) rotate(-46.5) scale(0.9,1)" text-anchor="end" class="cl">LHI_7S</text>
<text transform="translate(338.25,196.90) rotate(-46.5) scale(0.9,1)" text-anchor="end" class="cl">HHI_7S</text>
<text transform="translate(358.70,196.90) rotate(-46.5) scale(0.9,1)" text-anchor="end" class="cl">LHI_14S</text>
<text transform="translate(379.15,196.90) rotate(-46.5) scale(0.9,1)" text-anchor="end" class="cl">HHI_14S</text>
<text transform="translate(399.61,196.90) rotate(-46.5) scale(0.9,1)" text-anchor="end" class="cl">LHI_21S</text>
<text transform="translate(420.06,196.90) rotate(-46.5) scale(0.9,1)" text-anchor="end" class="cl">HHI_21S</text>
<text transform="translate(440.52,196.90) rotate(-46.5) scale(0.9,1)" text-anchor="end" class="cl">LHI_30S</text>
<text transform="translate(460.97,196.90) rotate(-46.5) scale(0.9,1)" text-anchor="end" class="cl">HHI_30S</text>
<ellipse cx="473.8" cy="19.16" rx="6" ry="1.9" fill="#f20000"/>
<ellipse cx="473.8" cy="26.86" rx="6" ry="1.9" fill="#f20000"/>
<ellipse cx="473.8" cy="165.54" rx="6" ry="1.9" fill="#f20000"/>
<ellipse cx="473.8" cy="173.24" rx="6" ry="1.9" fill="#f20000"/>
<ellipse cx="473.8" cy="188.65" rx="6" ry="1.9" fill="#f20000"/>
<path d="M468.5 104.00 L478.8 100.40 L476.6 104.00 L478.8 107.40 Z" fill="#000"/>
<path d="M468.5 111.71 L478.8 108.11 L476.6 111.71 L478.8 115.11 Z" fill="#000"/>
<path d="M468.5 119.41 L478.8 115.81 L476.6 119.41 L478.8 122.81 Z" fill="#000"/>
<path d="M468.5 127.11 L478.8 123.51 L476.6 127.11 L478.8 130.51 Z" fill="#000"/>
<path d="M468.5 134.82 L478.8 131.22 L476.6 134.82 L478.8 138.22 Z" fill="#000"/>
<path d="M468.5 142.52 L478.8 138.92 L476.6 142.52 L478.8 145.92 Z" fill="#000"/>
<rect x="25.00" y="226.50" width="108.60" height="184.50" fill="#808080"/>
<rect x="25.00" y="229.81" width="13.57" height="4.38" fill="#f5dc9c"/>
<rect x="38.58" y="229.81" width="13.57" height="4.38" fill="#f5dc9c"/>
<rect x="52.15" y="230.54" width="13.57" height="3.65" fill="#eeeaaa"/>
<rect x="65.72" y="230.72" width="13.57" height="3.47" fill="#e5e4ac"/>
<rect x="79.30" y="228.53" width="13.57" height="5.66" fill="#f29571"/>
<rect x="92.88" y="228.53" width="13.57" height="5.66" fill="#f29571"/>
<rect x="106.45" y="228.26" width="13.57" height="5.93" fill="#f08466"/>
<rect x="120.02" y="228.07" width="13.57" height="6.11" fill="#ef795f"/>
<rect x="25.00" y="238.41" width="13.57" height="3.47" fill="#e5e4ac"/>
<rect x="38.58" y="238.41" width="13.57" height="3.47" fill="#e5e4ac"/>
<rect x="52.15" y="239.59" width="13.57" height="2.28" fill="#a6c8cc"/>
<rect x="65.72" y="239.59" width="13.57" height="2.28" fill="#a6c8cc"/>
<rect x="79.30" y="237.50" width="13.57" height="4.38" fill="#f5dc9c"/>
<rect x="92.88" y="237.50" width="13.57" height="4.38" fill="#f5dc9c"/>
<rect x="106.45" y="235.76" width="13.57" height="6.11" fill="#ef795f"/>
<rect x="120.02" y="235.67" width="13.57" height="6.21" fill="#ee735b"/>
<rect x="25.00" y="245.46" width="13.57" height="4.11" fill="#f3e6a0"/>
<rect x="38.58" y="245.46" width="13.57" height="4.11" fill="#f3e6a0"/>
<rect x="52.15" y="247.01" width="13.57" height="2.55" fill="#b7cec2"/>
<rect x="65.72" y="246.82" width="13.57" height="2.74" fill="#c2d2bc"/>
<rect x="79.30" y="243.63" width="13.57" height="5.93" fill="#f08466"/>
<rect x="92.88" y="243.63" width="13.57" height="5.93" fill="#f08466"/>
<rect x="106.45" y="244.27" width="13.57" height="5.29" fill="#f5a97e"/>
<rect x="120.02" y="243.18" width="13.57" height="6.39" fill="#ed6854"/>
<rect x="25.00" y="251.96" width="13.57" height="5.29" fill="#f5a97e"/>
<rect x="38.58" y="252.41" width="13.57" height="4.84" fill="#f7c28f"/>
<rect x="52.15" y="253.78" width="13.57" height="3.47" fill="#e5e4ac"/>
<rect x="65.72" y="253.78" width="13.57" height="3.47" fill="#e5e4ac"/>
<rect x="79.30" y="250.41" width="13.57" height="6.84" fill="#ec4a3c"/>
<rect x="92.88" y="250.41" width="13.57" height="6.84" fill="#ec4a3c"/>
<rect x="106.45" y="250.59" width="13.57" height="6.66" fill="#ec5646"/>
<rect x="120.02" y="250.41" width="13.57" height="6.84" fill="#ec4a3c"/>
<rect x="106.45" y="263.75" width="13.57" height="1.19" fill="#6d98cf"/>
<rect x="120.02" y="263.75" width="13.57" height="1.19" fill="#6d98cf"/>
<rect x="38.58" y="279.40" width="13.57" height="0.91" fill="#5a88c8"/>
<rect x="52.15" y="279.40" width="13.57" height="0.91" fill="#5a88c8"/>
<rect x="79.30" y="273.47" width="13.57" height="6.84" fill="#ec4a3c"/>
<rect x="92.88" y="273.47" width="13.57" height="6.84" fill="#ec4a3c"/>
<rect x="106.45" y="275.75" width="13.57" height="4.56" fill="#f7d59a"/>
<rect x="120.02" y="276.39" width="13.57" height="3.92" fill="#f1e8a4"/>
<rect x="25.00" y="286.81" width="13.57" height="1.19" fill="#6d98cf"/>
<rect x="38.58" y="286.81" width="13.57" height="1.19" fill="#6d98cf"/>
<rect x="52.15" y="286.81" width="13.57" height="1.19" fill="#6d98cf"/>
<rect x="65.72" y="286.81" width="13.57" height="1.19" fill="#6d98cf"/>
<rect x="79.30" y="285.26" width="13.57" height="2.74" fill="#c2d2bc"/>
<rect x="92.88" y="285.26" width="13.57" height="2.74" fill="#c2d2bc"/>
<rect x="106.45" y="285.44" width="13.57" height="2.55" fill="#b7cec2"/>
<rect x="120.02" y="285.44" width="13.57" height="2.55" fill="#b7cec2"/>
<rect x="25.00" y="294.50" width="13.57" height="1.19" fill="#6d98cf"/>
<rect x="38.58" y="294.50" width="13.57" height="1.19" fill="#6d98cf"/>
<rect x="79.30" y="292.49" width="13.57" height="3.19" fill="#d8dcb0"/>
<rect x="92.88" y="292.77" width="13.57" height="2.92" fill="#cbd6b7"/>
<rect x="106.45" y="293.13" width="13.57" height="2.55" fill="#b7cec2"/>
<rect x="120.02" y="293.13" width="13.57" height="2.55" fill="#b7cec2"/>
<rect x="25.00" y="302.19" width="13.57" height="1.19" fill="#6d98cf"/>
<rect x="38.58" y="302.19" width="13.57" height="1.19" fill="#6d98cf"/>
<rect x="52.15" y="301.28" width="13.57" height="2.10" fill="#9dc0cf"/>
<rect x="65.72" y="301.28" width="13.57" height="2.10" fill="#9dc0cf"/>
<rect x="106.45" y="302.19" width="13.57" height="1.19" fill="#6d98cf"/>
<rect x="120.02" y="302.19" width="13.57" height="1.19" fill="#6d98cf"/>
<rect x="25.00" y="310.15" width="13.57" height="0.91" fill="#5a88c8"/>
<rect x="38.58" y="310.15" width="13.57" height="0.91" fill="#5a88c8"/>
<rect x="52.15" y="308.96" width="13.57" height="2.10" fill="#9dc0cf"/>
<rect x="65.72" y="308.96" width="13.57" height="2.10" fill="#9dc0cf"/>
<rect x="106.45" y="309.97" width="13.57" height="1.09" fill="#6792cd"/>
<rect x="120.02" y="309.97" width="13.57" height="1.09" fill="#6792cd"/>
<rect x="25.00" y="317.84" width="13.57" height="0.91" fill="#5a88c8"/>
<rect x="38.58" y="317.56" width="13.57" height="1.19" fill="#6d98cf"/>
<rect x="52.15" y="317.84" width="13.57" height="0.91" fill="#5a88c8"/>
<rect x="65.72" y="316.93" width="13.57" height="1.82" fill="#8fb4d4"/>
<rect x="106.45" y="317.65" width="13.57" height="1.09" fill="#6792cd"/>
<rect x="120.02" y="317.38" width="13.57" height="1.37" fill="#7aa2d4"/>
<rect x="25.00" y="321.60" width="13.57" height="4.84" fill="#f7c28f"/>
<rect x="38.58" y="322.61" width="13.57" height="3.83" fill="#f0e8a6"/>
<rect x="52.15" y="322.06" width="13.57" height="4.38" fill="#f5dc9c"/>
<rect x="65.72" y="322.51" width="13.57" height="3.92" fill="#f1e8a4"/>
<rect x="79.30" y="319.32" width="13.57" height="7.12" fill="#ed382e"/>
<rect x="92.88" y="320.51" width="13.57" height="5.93" fill="#f08466"/>
<rect x="106.45" y="322.51" width="13.57" height="3.92" fill="#f1e8a4"/>
<rect x="120.02" y="322.61" width="13.57" height="3.83" fill="#f0e8a6"/>
<rect x="25.00" y="328.47" width="13.57" height="5.66" fill="#f29571"/>
<rect x="38.58" y="329.29" width="13.57" height="4.84" fill="#f7c28f"/>
<rect x="52.15" y="329.29" width="13.57" height="4.84" fill="#f7c28f"/>
<rect x="65.72" y="329.29" width="13.57" height="4.84" fill="#f7c28f"/>
<rect x="79.30" y="327.01" width="13.57" height="7.12" fill="#ed382e"/>
<rect x="92.88" y="327.92" width="13.57" height="6.21" fill="#ee735b"/>
<rect x="106.45" y="329.29" width="13.57" height="4.84" fill="#f7c28f"/>
<rect x="120.02" y="329.56" width="13.57" height="4.56" fill="#f7d59a"/>
<rect x="25.00" y="335.88" width="13.57" height="5.93" fill="#f08466"/>
<rect x="38.58" y="336.79" width="13.57" height="5.02" fill="#f7b688"/>
<rect x="52.15" y="336.15" width="13.57" height="5.66" fill="#f29571"/>
<rect x="65.72" y="336.52" width="13.57" height="5.29" fill="#f5a97e"/>
<rect x="79.30" y="334.88" width="13.57" height="6.93" fill="#ec4437"/>
<rect x="92.88" y="335.88" width="13.57" height="5.93" fill="#f08466"/>
<rect x="106.45" y="337.89" width="13.57" height="3.92" fill="#f1e8a4"/>
<rect x="120.02" y="338.35" width="13.57" height="3.47" fill="#e5e4ac"/>
<rect x="25.00" y="344.66" width="13.57" height="4.84" fill="#f7c28f"/>
<rect x="38.58" y="344.66" width="13.57" height="4.84" fill="#f7c28f"/>
<rect x="52.15" y="344.66" width="13.57" height="4.84" fill="#f7c28f"/>
<rect x="65.72" y="344.02" width="13.57" height="5.47" fill="#f4a078"/>
<rect x="79.30" y="344.02" width="13.57" height="5.47" fill="#f4a078"/>
<rect x="92.88" y="344.66" width="13.57" height="4.84" fill="#f7c28f"/>
<rect x="106.45" y="347.22" width="13.57" height="2.28" fill="#a6c8cc"/>
<rect x="120.02" y="347.22" width="13.57" height="2.28" fill="#a6c8cc"/>
<rect x="25.00" y="351.71" width="13.57" height="5.47" fill="#f4a078"/>
<rect x="38.58" y="352.35" width="13.57" height="4.84" fill="#f7c28f"/>
<rect x="52.15" y="353.08" width="13.57" height="4.11" fill="#f3e6a0"/>
<rect x="65.72" y="352.81" width="13.57" height="4.38" fill="#f5dc9c"/>
<rect x="79.30" y="350.98" width="13.57" height="6.21" fill="#ee735b"/>
<rect x="92.88" y="350.98" width="13.57" height="6.21" fill="#ee735b"/>
<rect x="106.45" y="355.36" width="13.57" height="1.82" fill="#8fb4d4"/>
<rect x="120.02" y="355.36" width="13.57" height="1.82" fill="#8fb4d4"/>
<rect x="25.00" y="358.49" width="13.57" height="6.39" fill="#ed6854"/>
<rect x="38.58" y="358.31" width="13.57" height="6.57" fill="#ed5c4a"/>
<rect x="52.15" y="359.40" width="13.57" height="5.47" fill="#f4a078"/>
<rect x="65.72" y="359.22" width="13.57" height="5.66" fill="#f29571"/>
<rect x="79.30" y="357.57" width="13.57" height="7.30" fill="#ee2c24"/>
<rect x="92.88" y="357.57" width="13.57" height="7.30" fill="#ee2c24"/>
<rect x="106.45" y="360.50" width="13.57" height="4.38" fill="#f5dc9c"/>
<rect x="120.02" y="360.04" width="13.57" height="4.84" fill="#f7c28f"/>
<rect x="25.00" y="369.10" width="13.57" height="3.47" fill="#e5e4ac"/>
<rect x="38.58" y="368.91" width="13.57" height="3.65" fill="#eeeaaa"/>
<rect x="52.15" y="370.01" width="13.57" height="2.55" fill="#b7cec2"/>
<rect x="65.72" y="370.28" width="13.57" height="2.28" fill="#a6c8cc"/>
<rect x="79.30" y="369.55" width="13.57" height="3.01" fill="#cfd8b5"/>
<rect x="92.88" y="370.28" width="13.57" height="2.28" fill="#a6c8cc"/>
<rect x="106.45" y="368.64" width="13.57" height="3.92" fill="#f1e8a4"/>
<rect x="120.02" y="368.00" width="13.57" height="4.56" fill="#f7d59a"/>
<rect x="25.00" y="376.42" width="13.57" height="3.83" fill="#f0e8a6"/>
<rect x="38.58" y="376.42" width="13.57" height="3.83" fill="#f0e8a6"/>
<rect x="52.15" y="377.33" width="13.57" height="2.92" fill="#cbd6b7"/>
<rect x="65.72" y="377.51" width="13.57" height="2.74" fill="#c2d2bc"/>
<rect x="79.30" y="376.60" width="13.57" height="3.65" fill="#eeeaaa"/>
<rect x="92.88" y="378.24" width="13.57" height="2.01" fill="#98bcd1"/>
<rect x="106.45" y="376.42" width="13.57" height="3.83" fill="#f0e8a6"/>
<rect x="120.02" y="375.87" width="13.57" height="4.38" fill="#f5dc9c"/>
<rect x="25.00" y="384.47" width="13.57" height="3.47" fill="#e5e4ac"/>
<rect x="38.58" y="382.92" width="13.57" height="5.02" fill="#f7b688"/>
<rect x="52.15" y="384.74" width="13.57" height="3.19" fill="#d8dcb0"/>
<rect x="65.72" y="383.56" width="13.57" height="4.38" fill="#f5dc9c"/>
<rect x="79.30" y="382.01" width="13.57" height="5.93" fill="#f08466"/>
<rect x="92.88" y="381.55" width="13.57" height="6.39" fill="#ed6854"/>
<rect x="106.45" y="382.92" width="13.57" height="5.02" fill="#f7b688"/>
<rect x="120.02" y="382.46" width="13.57" height="5.47" fill="#f4a078"/>
<rect x="25.00" y="391.98" width="13.57" height="3.65" fill="#eeeaaa"/>
<rect x="38.58" y="391.79" width="13.57" height="3.83" fill="#f0e8a6"/>
<rect x="52.15" y="392.25" width="13.57" height="3.38" fill="#e1e2ae"/>
<rect x="65.72" y="392.16" width="13.57" height="3.47" fill="#e5e4ac"/>
<rect x="79.30" y="389.69" width="13.57" height="5.93" fill="#f08466"/>
<rect x="92.88" y="389.69" width="13.57" height="5.93" fill="#f08466"/>
<rect x="106.45" y="390.61" width="13.57" height="5.02" fill="#f7b688"/>
<rect x="120.02" y="390.33" width="13.57" height="5.29" fill="#f5a97e"/>
<rect x="25.00" y="398.48" width="13.57" height="4.84" fill="#f7c28f"/>
<rect x="38.58" y="398.29" width="13.57" height="5.02" fill="#f7b688"/>
<rect x="52.15" y="398.75" width="13.57" height="4.56" fill="#f7d59a"/>
<rect x="65.72" y="398.02" width="13.57" height="5.29" fill="#f5a97e"/>
<rect x="79.30" y="397.38" width="13.57" height="5.93" fill="#f08466"/>
<rect x="92.88" y="396.93" width="13.57" height="6.39" fill="#ed6854"/>
<rect x="106.45" y="398.29" width="13.57" height="5.02" fill="#f7b688"/>
<rect x="120.02" y="398.02" width="13.57" height="5.29" fill="#f5a97e"/>
<rect x="25.00" y="407.08" width="13.57" height="3.92" fill="#f1e8a4"/>
<rect x="38.58" y="406.89" width="13.57" height="4.11" fill="#f3e6a0"/>
<rect x="52.15" y="407.08" width="13.57" height="3.92" fill="#f1e8a4"/>
<rect x="65.72" y="406.89" width="13.57" height="4.11" fill="#f3e6a0"/>
<rect x="79.30" y="405.98" width="13.57" height="5.02" fill="#f7b688"/>
<rect x="92.88" y="405.98" width="13.57" height="5.02" fill="#f7b688"/>
<rect x="106.45" y="406.89" width="13.57" height="4.11" fill="#f3e6a0"/>
<rect x="120.02" y="406.62" width="13.57" height="4.38" fill="#f5dc9c"/>
<line x1="25.00" x2="133.60" y1="234.19" y2="234.19" stroke="#fff" stroke-opacity="0.7" stroke-width="0.8"/>
<line x1="25.00" x2="133.60" y1="241.88" y2="241.88" stroke="#fff" stroke-opacity="0.7" stroke-width="0.8"/>
<line x1="25.00" x2="133.60" y1="249.56" y2="249.56" stroke="#fff" stroke-opacity="0.7" stroke-width="0.8"/>
<line x1="25.00" x2="133.60" y1="257.25" y2="257.25" stroke="#fff" stroke-opacity="0.7" stroke-width="0.8"/>
<line x1="25.00" x2="133.60" y1="264.94" y2="264.94" stroke="#fff" stroke-opacity="0.7" stroke-width="0.8"/>
<line x1="25.00" x2="133.60" y1="272.62" y2="272.62" stroke="#fff" stroke-opacity="0.7" stroke-width="0.8"/>
<line x1="25.00" x2="133.60" y1="280.31" y2="280.31" stroke="#fff" stroke-opacity="0.7" stroke-width="0.8"/>
<line x1="25.00" x2="133.60" y1="288.00" y2="288.00" stroke="#fff" stroke-opacity="0.7" stroke-width="0.8"/>
<line x1="25.00" x2="133.60" y1="295.69" y2="295.69" stroke="#fff" stroke-opacity="0.7" stroke-width="0.8"/>
<line x1="25.00" x2="133.60" y1="303.38" y2="303.38" stroke="#fff" stroke-opacity="0.7" stroke-width="0.8"/>
<line x1="25.00" x2="133.60" y1="311.06" y2="311.06" stroke="#fff" stroke-opacity="0.7" stroke-width="0.8"/>
<line x1="25.00" x2="133.60" y1="318.75" y2="318.75" stroke="#fff" stroke-opacity="0.7" stroke-width="0.8"/>
<line x1="25.00" x2="133.60" y1="326.44" y2="326.44" stroke="#fff" stroke-opacity="0.7" stroke-width="0.8"/>
<line x1="25.00" x2="133.60" y1="334.12" y2="334.12" stroke="#fff" stroke-opacity="0.7" stroke-width="0.8"/>
<line x1="25.00" x2="133.60" y1="341.81" y2="341.81" stroke="#fff" stroke-opacity="0.7" stroke-width="0.8"/>
<line x1="25.00" x2="133.60" y1="349.50" y2="349.50" stroke="#fff" stroke-opacity="0.7" stroke-width="0.8"/>
<line x1="25.00" x2="133.60" y1="357.19" y2="357.19" stroke="#fff" stroke-opacity="0.7" stroke-width="0.8"/>
<line x1="25.00" x2="133.60" y1="364.88" y2="364.88" stroke="#fff" stroke-opacity="0.7" stroke-width="0.8"/>
<line x1="25.00" x2="133.60" y1="372.56" y2="372.56" stroke="#fff" stroke-opacity="0.7" stroke-width="0.8"/>
<line x1="25.00" x2="133.60" y1="380.25" y2="380.25" stroke="#fff" stroke-opacity="0.7" stroke-width="0.8"/>
<line x1="25.00" x2="133.60" y1="387.94" y2="387.94" stroke="#fff" stroke-opacity="0.7" stroke-width="0.8"/>
<line x1="25.00" x2="133.60" y1="395.62" y2="395.62" stroke="#fff" stroke-opacity="0.7" stroke-width="0.8"/>
<line x1="25.00" x2="133.60" y1="403.31" y2="403.31" stroke="#fff" stroke-opacity="0.7" stroke-width="0.8"/>
<line x1="38.58" x2="38.58" y1="226.50" y2="411.00" stroke="#fff" stroke-opacity="0.8" stroke-width="0.9"/>
<line x1="52.15" x2="52.15" y1="226.50" y2="411.00" stroke="#fff" stroke-opacity="0.8" stroke-width="0.9"/>
<line x1="65.72" x2="65.72" y1="226.50" y2="411.00" stroke="#fff" stroke-opacity="0.8" stroke-width="0.9"/>
<line x1="79.30" x2="79.30" y1="226.50" y2="411.00" stroke="#fff" stroke-opacity="0.8" stroke-width="0.9"/>
<line x1="92.88" x2="92.88" y1="226.50" y2="411.00" stroke="#fff" stroke-opacity="0.8" stroke-width="0.9"/>
<line x1="106.45" x2="106.45" y1="226.50" y2="411.00" stroke="#fff" stroke-opacity="0.8" stroke-width="0.9"/>
<line x1="120.02" x2="120.02" y1="226.50" y2="411.00" stroke="#fff" stroke-opacity="0.8" stroke-width="0.9"/>
<rect x="135.40" y="226.50" width="43.40" height="30.82" fill="#c4f3d3"/>
<rect x="135.40" y="257.32" width="43.40" height="23.11" fill="#7fcf4e"/>
<rect x="135.40" y="280.43" width="43.40" height="15.41" fill="#c6f2f8"/>
<rect x="135.40" y="295.84" width="43.40" height="23.11" fill="#f5c8f1"/>
<rect x="135.40" y="318.95" width="43.40" height="30.82" fill="#cdcff4"/>
<rect x="135.40" y="349.77" width="43.40" height="15.41" fill="#ee3c5c"/>
<rect x="135.40" y="365.17" width="43.40" height="15.41" fill="#fce1de"/>
<rect x="135.40" y="380.58" width="43.40" height="30.82" fill="#f4a59d"/>
<text x="0" y="0" transform="translate(137.00,232.30) scale(0.905,1)" class="gl">BnaAGO4-1</text>
<text x="0" y="0" transform="translate(137.00,240.04) scale(0.905,1)" class="gl">BnaAGO4-2</text>
<text x="0" y="0" transform="translate(137.00,247.77) scale(0.905,1)" class="gl">BnaAGO4-3</text>
<text x="0" y="0" transform="translate(137.00,255.51) scale(0.905,1)" class="gl">BnaAGO4-4</text>
<text x="0" y="0" transform="translate(137.00,263.24) scale(0.905,1)" class="gl">BnaAGO9-1</text>
<text x="0" y="0" transform="translate(137.00,270.98) scale(0.905,1)" class="gl">BnaAGO9-2</text>
<text x="0" y="0" transform="translate(137.00,278.71) scale(0.905,1)" class="gl">BnaAGO9-3</text>
<text x="0" y="0" transform="translate(137.00,286.44) scale(0.905,1)" class="gl">BnaAGO6-1</text>
<text x="0" y="0" transform="translate(137.00,294.18) scale(0.905,1)" class="gl">BnaAGO6-2</text>
<text x="0" y="0" transform="translate(137.00,301.92) scale(0.905,1)" class="gl">BnaAGO7-1</text>
<text x="0" y="0" transform="translate(137.00,309.65) scale(0.905,1)" class="gl">BnaAGO7-2</text>
<text x="0" y="0" transform="translate(137.00,317.38) scale(0.905,1)" class="gl">BnaAGO7-3</text>
<text x="0" y="0" transform="translate(137.00,325.12) scale(0.905,1)" class="gl">BnaAGO2-1</text>
<text x="0" y="0" transform="translate(137.00,332.86) scale(0.905,1)" class="gl">BnaAGO2-2</text>
<text x="0" y="0" transform="translate(137.00,340.59) scale(0.905,1)" class="gl">BnaAGO2-3</text>
<text x="0" y="0" transform="translate(137.00,348.33) scale(0.905,1)" class="gl">BnaAGO2-4</text>
<text x="0" y="0" transform="translate(137.00,356.06) scale(0.905,1)" class="gl">BnaAGO5-1</text>
<text x="0" y="0" transform="translate(137.00,363.80) scale(0.905,1)" class="gl">BnaAGO5-2</text>
<text x="0" y="0" transform="translate(137.00,371.53) scale(0.905,1)" class="gl">BnaAGO10-1</text>
<text x="0" y="0" transform="translate(137.00,379.26) scale(0.905,1)" class="gl">BnaAGO10-2</text>
<text x="0" y="0" transform="translate(137.00,387.00) scale(0.905,1)" class="gl">BnaAGO1-1</text>
<text x="0" y="0" transform="translate(137.00,394.74) scale(0.905,1)" class="gl">BnaAGO1-2</text>
<text x="0" y="0" transform="translate(137.00,402.47) scale(0.905,1)" class="gl">BnaAGO1-3</text>
<text x="0" y="0" transform="translate(137.00,410.21) scale(0.905,1)" class="gl">BnaAGO1-4</text>
<defs><linearGradient id="gB" x1="0" y1="1" x2="0" y2="0">
<stop offset="0.0000" stop-color="#1c5cb0"/>
<stop offset="0.1250" stop-color="#5281b0"/>
<stop offset="0.2500" stop-color="#89a6b1"/>
<stop offset="0.3750" stop-color="#c0cbb2"/>
<stop offset="0.5000" stop-color="#f6f0b2"/>
<stop offset="0.6250" stop-color="#f2be8e"/>
<stop offset="0.7500" stop-color="#ed8c6b"/>
<stop offset="0.8750" stop-color="#e85a48"/>
<stop offset="1.0000" stop-color="#e42824"/>
</linearGradient></defs>
<rect x="181.30" y="227.10" width="8.30" height="61.80" fill="url(#gB)"/>
<line x1="189.60" x2="190.80" y1="288.90" y2="288.90" stroke="#333" stroke-width="0.4"/>
<text x="191.60" y="290.70" class="tk">0</text>
<line x1="189.60" x2="190.80" y1="281.17" y2="281.17" stroke="#333" stroke-width="0.4"/>
<text x="191.60" y="282.97" class="tk">1</text>
<line x1="189.60" x2="190.80" y1="273.45" y2="273.45" stroke="#333" stroke-width="0.4"/>
<text x="191.60" y="275.25" class="tk">2</text>
<line x1="189.60" x2="190.80" y1="265.72" y2="265.72" stroke="#333" stroke-width="0.4"/>
<text x="191.60" y="267.52" class="tk">3</text>
<line x1="189.60" x2="190.80" y1="258.00" y2="258.00" stroke="#333" stroke-width="0.4"/>
<text x="191.60" y="259.80" class="tk">4</text>
<line x1="189.60" x2="190.80" y1="250.27" y2="250.27" stroke="#333" stroke-width="0.4"/>
<text x="191.60" y="252.07" class="tk">5</text>
<line x1="189.60" x2="190.80" y1="242.55" y2="242.55" stroke="#333" stroke-width="0.4"/>
<text x="191.60" y="244.35" class="tk">6</text>
<line x1="189.60" x2="190.80" y1="234.82" y2="234.82" stroke="#333" stroke-width="0.4"/>
<text x="191.60" y="236.62" class="tk">7</text>
<line x1="189.60" x2="190.80" y1="227.10" y2="227.10" stroke="#333" stroke-width="0.4"/>
<text x="191.60" y="228.90" class="tk">8</text>
<text transform="translate(34.09,418.60) rotate(-46.5) scale(0.9,1)" text-anchor="end" class="cl">LTSW_15P</text>
<text transform="translate(47.66,418.60) rotate(-46.5) scale(0.9,1)" text-anchor="end" class="cl">HTSW_15P</text>
<text transform="translate(61.24,418.60) rotate(-46.5) scale(0.9,1)" text-anchor="end" class="cl">LTSW_35P</text>
<text transform="translate(74.81,418.60) rotate(-46.5) scale(0.9,1)" text-anchor="end" class="cl">HTSW_35P</text>
<text transform="translate(88.39,418.60) rotate(-46.5) scale(0.9,1)" text-anchor="end" class="cl">LTSW_15S</text>
<text transform="translate(101.96,418.60) rotate(-46.5) scale(0.9,1)" text-anchor="end" class="cl">HTSW_15S</text>
<text transform="translate(115.54,418.60) rotate(-46.5) scale(0.9,1)" text-anchor="end" class="cl">LTSW_35S</text>
<text transform="translate(129.11,418.60) rotate(-46.5) scale(0.9,1)" text-anchor="end" class="cl">HTSW_35S</text>
<rect x="233.30" y="226.50" width="72.70" height="184.50" fill="#808080"/>
<rect x="233.30" y="228.90" width="18.17" height="5.29" fill="#f5a97e"/>
<rect x="251.48" y="228.90" width="18.17" height="5.29" fill="#f5a97e"/>
<rect x="269.65" y="229.62" width="18.17" height="4.56" fill="#f7d59a"/>
<rect x="287.82" y="229.17" width="18.17" height="5.02" fill="#f7b688"/>
<rect x="233.30" y="236.86" width="18.17" height="5.02" fill="#f7b688"/>
<rect x="251.48" y="236.86" width="18.17" height="5.02" fill="#f7b688"/>
<rect x="269.65" y="237.95" width="18.17" height="3.92" fill="#f1e8a4"/>
<rect x="287.82" y="237.04" width="18.17" height="4.84" fill="#f7c28f"/>
<rect x="233.30" y="243.63" width="18.17" height="5.93" fill="#f08466"/>
<rect x="251.48" y="243.63" width="18.17" height="5.93" fill="#f08466"/>
<rect x="269.65" y="244.27" width="18.17" height="5.29" fill="#f5a97e"/>
<rect x="287.82" y="243.81" width="18.17" height="5.75" fill="#f28f6d"/>
<rect x="233.30" y="250.86" width="18.17" height="6.39" fill="#ed6854"/>
<rect x="251.48" y="250.86" width="18.17" height="6.39" fill="#ed6854"/>
<rect x="269.65" y="251.59" width="18.17" height="5.66" fill="#f29571"/>
<rect x="287.82" y="250.86" width="18.17" height="6.39" fill="#ed6854"/>
<rect x="233.30" y="273.01" width="18.17" height="7.30" fill="#ee2c24"/>
<rect x="251.48" y="273.01" width="18.17" height="7.30" fill="#ee2c24"/>
<rect x="269.65" y="274.56" width="18.17" height="5.75" fill="#f28f6d"/>
<rect x="287.82" y="273.74" width="18.17" height="6.57" fill="#ed5c4a"/>
<rect x="233.30" y="285.26" width="18.17" height="2.74" fill="#c2d2bc"/>
<rect x="251.48" y="285.26" width="18.17" height="2.74" fill="#c2d2bc"/>
<rect x="269.65" y="285.90" width="18.17" height="2.10" fill="#9dc0cf"/>
<rect x="287.82" y="286.18" width="18.17" height="1.82" fill="#8fb4d4"/>
<rect x="233.30" y="292.04" width="18.17" height="3.65" fill="#eeeaaa"/>
<rect x="251.48" y="292.04" width="18.17" height="3.65" fill="#eeeaaa"/>
<rect x="269.65" y="292.95" width="18.17" height="2.74" fill="#c2d2bc"/>
<rect x="287.82" y="293.13" width="18.17" height="2.55" fill="#b7cec2"/>
<rect x="233.30" y="301.28" width="18.17" height="2.10" fill="#9dc0cf"/>
<rect x="251.48" y="300.18" width="18.17" height="3.19" fill="#d8dcb0"/>
<rect x="269.65" y="302.01" width="18.17" height="1.37" fill="#7aa2d4"/>
<rect x="287.82" y="301.28" width="18.17" height="2.10" fill="#9dc0cf"/>
<rect x="233.30" y="308.96" width="18.17" height="2.10" fill="#9dc0cf"/>
<rect x="251.48" y="309.42" width="18.17" height="1.64" fill="#87add4"/>
<rect x="269.65" y="309.69" width="18.17" height="1.37" fill="#7aa2d4"/>
<rect x="287.82" y="310.15" width="18.17" height="0.91" fill="#5a88c8"/>
<rect x="233.30" y="317.84" width="18.17" height="0.91" fill="#5a88c8"/>
<rect x="251.48" y="317.38" width="18.17" height="1.37" fill="#7aa2d4"/>
<rect x="269.65" y="317.84" width="18.17" height="0.91" fill="#5a88c8"/>
<rect x="287.82" y="317.84" width="18.17" height="0.91" fill="#5a88c8"/>
<rect x="233.30" y="323.24" width="18.17" height="3.19" fill="#d8dcb0"/>
<rect x="251.48" y="322.79" width="18.17" height="3.65" fill="#eeeaaa"/>
<rect x="269.65" y="321.60" width="18.17" height="4.84" fill="#f7c28f"/>
<rect x="287.82" y="321.60" width="18.17" height="4.84" fill="#f7c28f"/>
<rect x="233.30" y="329.29" width="18.17" height="4.84" fill="#f7c28f"/>
<rect x="251.48" y="328.65" width="18.17" height="5.47" fill="#f4a078"/>
<rect x="269.65" y="329.11" width="18.17" height="5.02" fill="#f7b688"/>
<rect x="287.82" y="328.83" width="18.17" height="5.29" fill="#f5a97e"/>
<rect x="233.30" y="336.34" width="18.17" height="5.47" fill="#f4a078"/>
<rect x="251.48" y="336.15" width="18.17" height="5.66" fill="#f29571"/>
<rect x="269.65" y="336.15" width="18.17" height="5.66" fill="#f29571"/>
<rect x="287.82" y="336.52" width="18.17" height="5.29" fill="#f5a97e"/>
<rect x="233.30" y="345.12" width="18.17" height="4.38" fill="#f5dc9c"/>
<rect x="251.48" y="344.66" width="18.17" height="4.84" fill="#f7c28f"/>
<rect x="269.65" y="345.39" width="18.17" height="4.11" fill="#f3e6a0"/>
<rect x="287.82" y="345.58" width="18.17" height="3.92" fill="#f1e8a4"/>
<rect x="233.30" y="351.89" width="18.17" height="5.29" fill="#f5a97e"/>
<rect x="251.48" y="351.89" width="18.17" height="5.29" fill="#f5a97e"/>
<rect x="269.65" y="351.89" width="18.17" height="5.29" fill="#f5a97e"/>
<rect x="287.82" y="351.89" width="18.17" height="5.29" fill="#f5a97e"/>
<rect x="233.30" y="358.31" width="18.17" height="6.57" fill="#ed5c4a"/>
<rect x="251.48" y="358.31" width="18.17" height="6.57" fill="#ed5c4a"/>
<rect x="269.65" y="358.49" width="18.17" height="6.39" fill="#ed6854"/>
<rect x="287.82" y="358.03" width="18.17" height="6.84" fill="#ec4a3c"/>
<rect x="233.30" y="367.27" width="18.17" height="5.29" fill="#f5a97e"/>
<rect x="251.48" y="367.27" width="18.17" height="5.29" fill="#f5a97e"/>
<rect x="269.65" y="368.73" width="18.17" height="3.83" fill="#f0e8a6"/>
<rect x="287.82" y="368.73" width="18.17" height="3.83" fill="#f0e8a6"/>
<rect x="233.30" y="375.23" width="18.17" height="5.02" fill="#f7b688"/>
<rect x="251.48" y="375.23" width="18.17" height="5.02" fill="#f7b688"/>
<rect x="269.65" y="376.42" width="18.17" height="3.83" fill="#f0e8a6"/>
<rect x="287.82" y="376.42" width="18.17" height="3.83" fill="#f0e8a6"/>
<rect x="233.30" y="382.19" width="18.17" height="5.75" fill="#f28f6d"/>
<rect x="251.48" y="382.19" width="18.17" height="5.75" fill="#f28f6d"/>
<rect x="269.65" y="382.64" width="18.17" height="5.29" fill="#f5a97e"/>
<rect x="287.82" y="382.64" width="18.17" height="5.29" fill="#f5a97e"/>
<rect x="233.30" y="389.69" width="18.17" height="5.93" fill="#f08466"/>
<rect x="251.48" y="389.69" width="18.17" height="5.93" fill="#f08466"/>
<rect x="269.65" y="390.33" width="18.17" height="5.29" fill="#f5a97e"/>
<rect x="287.82" y="390.15" width="18.17" height="5.47" fill="#f4a078"/>
<rect x="233.30" y="397.38" width="18.17" height="5.93" fill="#f08466"/>
<rect x="251.48" y="397.29" width="18.17" height="6.02" fill="#ef7e62"/>
<rect x="269.65" y="398.02" width="18.17" height="5.29" fill="#f5a97e"/>
<rect x="287.82" y="397.84" width="18.17" height="5.47" fill="#f4a078"/>
<rect x="233.30" y="405.98" width="18.17" height="5.02" fill="#f7b688"/>
<rect x="251.48" y="405.98" width="18.17" height="5.02" fill="#f7b688"/>
<rect x="269.65" y="406.16" width="18.17" height="4.84" fill="#f7c28f"/>
<rect x="287.82" y="405.98" width="18.17" height="5.02" fill="#f7b688"/>
<line x1="233.30" x2="306.00" y1="234.19" y2="234.19" stroke="#fff" stroke-opacity="0.7" stroke-width="0.8"/>
<line x1="233.30" x2="306.00" y1="241.88" y2="241.88" stroke="#fff" stroke-opacity="0.7" stroke-width="0.8"/>
<line x1="233.30" x2="306.00" y1="249.56" y2="249.56" stroke="#fff" stroke-opacity="0.7" stroke-width="0.8"/>
<line x1="233.30" x2="306.00" y1="257.25" y2="257.25" stroke="#fff" stroke-opacity="0.7" stroke-width="0.8"/>
<line x1="233.30" x2="306.00" y1="264.94" y2="264.94" stroke="#fff" stroke-opacity="0.7" stroke-width="0.8"/>
<line x1="233.30" x2="306.00" y1="272.62" y2="272.62" stroke="#fff" stroke-opacity="0.7" stroke-width="0.8"/>
<line x1="233.30" x2="306.00" y1="280.31" y2="280.31" stroke="#fff" stroke-opacity="0.7" stroke-width="0.8"/>
<line x1="233.30" x2="306.00" y1="288.00" y2="288.00" stroke="#fff" stroke-opacity="0.7" stroke-width="0.8"/>
<line x1="233.30" x2="306.00" y1="295.69" y2="295.69" stroke="#fff" stroke-opacity="0.7" stroke-width="0.8"/>
<line x1="233.30" x2="306.00" y1="303.38" y2="303.38" stroke="#fff" stroke-opacity="0.7" stroke-width="0.8"/>
<line x1="233.30" x2="306.00" y1="311.06" y2="311.06" stroke="#fff" stroke-opacity="0.7" stroke-width="0.8"/>
<line x1="233.30" x2="306.00" y1="318.75" y2="318.75" stroke="#fff" stroke-opacity="0.7" stroke-width="0.8"/>
<line x1="233.30" x2="306.00" y1="326.44" y2="326.44" stroke="#fff" stroke-opacity="0.7" stroke-width="0.8"/>
<line x1="233.30" x2="306.00" y1="334.12" y2="334.12" stroke="#fff" stroke-opacity="0.7" stroke-width="0.8"/>
<line x1="233.30" x2="306.00" y1="341.81" y2="341.81" stroke="#fff" stroke-opacity="0.7" stroke-width="0.8"/>
<line x1="233.30" x2="306.00" y1="349.50" y2="349.50" stroke="#fff" stroke-opacity="0.7" stroke-width="0.8"/>
<line x1="233.30" x2="306.00" y1="357.19" y2="357.19" stroke="#fff" stroke-opacity="0.7" stroke-width="0.8"/>
<line x1="233.30" x2="306.00" y1="364.88" y2="364.88" stroke="#fff" stroke-opacity="0.7" stroke-width="0.8"/>
<line x1="233.30" x2="306.00" y1="372.56" y2="372.56" stroke="#fff" stroke-opacity="0.7" stroke-width="0.8"/>
<line x1="233.30" x2="306.00" y1="380.25" y2="380.25" stroke="#fff" stroke-opacity="0.7" stroke-width="0.8"/>
<line x1="233.30" x2="306.00" y1="387.94" y2="387.94" stroke="#fff" stroke-opacity="0.7" stroke-width="0.8"/>
<line x1="233.30" x2="306.00" y1="395.62" y2="395.62" stroke="#fff" stroke-opacity="0.7" stroke-width="0.8"/>
<line x1="233.30" x2="306.00" y1="403.31" y2="403.31" stroke="#fff" stroke-opacity="0.7" stroke-width="0.8"/>
<line x1="251.48" x2="251.48" y1="226.50" y2="411.00" stroke="#fff" stroke-opacity="0.8" stroke-width="0.9"/>
<line x1="269.65" x2="269.65" y1="226.50" y2="411.00" stroke="#fff" stroke-opacity="0.8" stroke-width="0.9"/>
<line x1="287.82" x2="287.82" y1="226.50" y2="411.00" stroke="#fff" stroke-opacity="0.8" stroke-width="0.9"/>
<rect x="307.20" y="226.50" width="43.40" height="30.82" fill="#c4f3d3"/>
<rect x="307.20" y="257.32" width="43.40" height="23.11" fill="#7fcf4e"/>
<rect x="307.20" y="280.43" width="43.40" height="15.41" fill="#c6f2f8"/>
<rect x="307.20" y="295.84" width="43.40" height="23.11" fill="#f5c8f1"/>
<rect x="307.20" y="318.95" width="43.40" height="30.82" fill="#cdcff4"/>
<rect x="307.20" y="349.77" width="43.40" height="15.41" fill="#ee3c5c"/>
<rect x="307.20" y="365.17" width="43.40" height="15.41" fill="#fce1de"/>
<rect x="307.20" y="380.58" width="43.40" height="30.82" fill="#f4a59d"/>
<text x="0" y="0" transform="translate(308.80,232.30) scale(0.905,1)" class="gl">BnaAGO4-1</text>
<text x="0" y="0" transform="translate(308.80,240.04) scale(0.905,1)" class="gl">BnaAGO4-2</text>
<text x="0" y="0" transform="translate(308.80,247.77) scale(0.905,1)" class="gl">BnaAGO4-3</text>
<text x="0" y="0" transform="translate(308.80,255.51) scale(0.905,1)" class="gl">BnaAGO4-4</text>
<text x="0" y="0" transform="translate(308.80,263.24) scale(0.905,1)" class="gl">BnaAGO9-1</text>
<text x="0" y="0" transform="translate(308.80,270.98) scale(0.905,1)" class="gl">BnaAGO9-2</text>
<text x="0" y="0" transform="translate(308.80,278.71) scale(0.905,1)" class="gl">BnaAGO9-3</text>
<text x="0" y="0" transform="translate(308.80,286.44) scale(0.905,1)" class="gl">BnaAGO6-1</text>
<text x="0" y="0" transform="translate(308.80,294.18) scale(0.905,1)" class="gl">BnaAGO6-2</text>
<text x="0" y="0" transform="translate(308.80,301.92) scale(0.905,1)" class="gl">BnaAGO7-1</text>
<text x="0" y="0" transform="translate(308.80,309.65) scale(0.905,1)" class="gl">BnaAGO7-2</text>
<text x="0" y="0" transform="translate(308.80,317.38) scale(0.905,1)" class="gl">BnaAGO7-3</text>
<text x="0" y="0" transform="translate(308.80,325.12) scale(0.905,1)" class="gl">BnaAGO2-1</text>
<text x="0" y="0" transform="translate(308.80,332.86) scale(0.905,1)" class="gl">BnaAGO2-2</text>
<text x="0" y="0" transform="translate(308.80,340.59) scale(0.905,1)" class="gl">BnaAGO2-3</text>
<text x="0" y="0" transform="translate(308.80,348.33) scale(0.905,1)" class="gl">BnaAGO2-4</text>
<text x="0" y="0" transform="translate(308.80,356.06) scale(0.905,1)" class="gl">BnaAGO5-1</text>
<text x="0" y="0" transform="translate(308.80,363.80) scale(0.905,1)" class="gl">BnaAGO5-2</text>
<text x="0" y="0" transform="translate(308.80,371.53) scale(0.905,1)" class="gl">BnaAGO10-1</text>
<text x="0" y="0" transform="translate(308.80,379.26) scale(0.905,1)" class="gl">BnaAGO10-2</text>
<text x="0" y="0" transform="translate(308.80,387.00) scale(0.905,1)" class="gl">BnaAGO1-1</text>
<text x="0" y="0" transform="translate(308.80,394.74) scale(0.905,1)" class="gl">BnaAGO1-2</text>
<text x="0" y="0" transform="translate(308.80,402.47) scale(0.905,1)" class="gl">BnaAGO1-3</text>
<text x="0" y="0" transform="translate(308.80,410.21) scale(0.905,1)" class="gl">BnaAGO1-4</text>
<defs><linearGradient id="gC" x1="0" y1="1" x2="0" y2="0">
<stop offset="0.0000" stop-color="#1c5cb0"/>
<stop offset="0.1250" stop-color="#5281b0"/>
<stop offset="0.2500" stop-color="#89a6b1"/>
<stop offset="0.3750" stop-color="#c0cbb2"/>
<stop offset="0.5000" stop-color="#f6f0b2"/>
<stop offset="0.6250" stop-color="#f2be8e"/>
<stop offset="0.7500" stop-color="#ed8c6b"/>
<stop offset="0.8750" stop-color="#e85a48"/>
<stop offset="1.0000" stop-color="#e42824"/>
</linearGradient></defs>
<rect x="352.40" y="226.30" width="8.10" height="61.70" fill="url(#gC)"/>
<line x1="360.50" x2="361.70" y1="288.00" y2="288.00" stroke="#333" stroke-width="0.4"/>
<text x="362.50" y="289.80" class="tk">0</text>
<line x1="360.50" x2="361.70" y1="280.29" y2="280.29" stroke="#333" stroke-width="0.4"/>
<text x="362.50" y="282.09" class="tk">1</text>
<line x1="360.50" x2="361.70" y1="272.57" y2="272.57" stroke="#333" stroke-width="0.4"/>
<text x="362.50" y="274.38" class="tk">2</text>
<line x1="360.50" x2="361.70" y1="264.86" y2="264.86" stroke="#333" stroke-width="0.4"/>
<text x="362.50" y="266.66" class="tk">3</text>
<line x1="360.50" x2="361.70" y1="257.15" y2="257.15" stroke="#333" stroke-width="0.4"/>
<text x="362.50" y="258.95" class="tk">4</text>
<line x1="360.50" x2="361.70" y1="249.44" y2="249.44" stroke="#333" stroke-width="0.4"/>
<text x="362.50" y="251.24" class="tk">5</text>
<line x1="360.50" x2="361.70" y1="241.73" y2="241.73" stroke="#333" stroke-width="0.4"/>
<text x="362.50" y="243.53" class="tk">6</text>
<line x1="360.50" x2="361.70" y1="234.01" y2="234.01" stroke="#333" stroke-width="0.4"/>
<text x="362.50" y="235.81" class="tk">7</text>
<line x1="360.50" x2="361.70" y1="226.30" y2="226.30" stroke="#333" stroke-width="0.4"/>
<text x="362.50" y="228.10" class="tk">8</text>
<text transform="translate(245.19,416.30) rotate(-46.5) scale(0.9,1)" text-anchor="end" class="cl">LSPS-Pi</text>
<text transform="translate(263.36,416.30) rotate(-46.5) scale(0.9,1)" text-anchor="end" class="cl">HSPS-Pi</text>
<text transform="translate(281.54,416.30) rotate(-46.5) scale(0.9,1)" text-anchor="end" class="cl">LSPS-Si</text>
<text transform="translate(299.71,416.30) rotate(-46.5) scale(0.9,1)" text-anchor="end" class="cl">HSPS-Si</text>
<rect x="409.70" y="226.50" width="72.70" height="184.50" fill="#808080"/>
<rect x="409.70" y="229.53" width="18.17" height="4.65" fill="#f7cf96"/>
<rect x="427.88" y="229.53" width="18.17" height="4.65" fill="#f7cf96"/>
<rect x="446.05" y="228.90" width="18.17" height="5.29" fill="#f5a97e"/>
<rect x="464.22" y="228.90" width="18.17" height="5.29" fill="#f5a97e"/>
<rect x="409.70" y="237.31" width="18.17" height="4.56" fill="#f7d59a"/>
<rect x="427.88" y="237.31" width="18.17" height="4.56" fill="#f7d59a"/>
<rect x="446.05" y="236.86" width="18.17" height="5.02" fill="#f7b688"/>
<rect x="464.22" y="236.86" width="18.17" height="5.02" fill="#f7b688"/>
<rect x="409.70" y="244.82" width="18.17" height="4.75" fill="#f7c993"/>
<rect x="427.88" y="244.82" width="18.17" height="4.75" fill="#f7c993"/>
<rect x="446.05" y="243.81" width="18.17" height="5.75" fill="#f28f6d"/>
<rect x="464.22" y="243.54" width="18.17" height="6.02" fill="#ef7e62"/>
<rect x="409.70" y="251.59" width="18.17" height="5.66" fill="#f29571"/>
<rect x="427.88" y="251.59" width="18.17" height="5.66" fill="#f29571"/>
<rect x="446.05" y="250.68" width="18.17" height="6.57" fill="#ed5c4a"/>
<rect x="464.22" y="250.50" width="18.17" height="6.75" fill="#ec5041"/>
<rect x="409.70" y="275.84" width="18.17" height="4.47" fill="#f6d89b"/>
<rect x="427.88" y="274.65" width="18.17" height="5.66" fill="#f29571"/>
<rect x="446.05" y="273.01" width="18.17" height="7.30" fill="#ee2c24"/>
<rect x="464.22" y="273.01" width="18.17" height="7.30" fill="#ee2c24"/>
<rect x="409.70" y="285.63" width="18.17" height="2.37" fill="#accac9"/>
<rect x="427.88" y="285.63" width="18.17" height="2.37" fill="#accac9"/>
<rect x="446.05" y="285.26" width="18.17" height="2.74" fill="#c2d2bc"/>
<rect x="464.22" y="285.26" width="18.17" height="2.74" fill="#c2d2bc"/>
<rect x="409.70" y="292.95" width="18.17" height="2.74" fill="#c2d2bc"/>
<rect x="427.88" y="292.95" width="18.17" height="2.74" fill="#c2d2bc"/>
<rect x="446.05" y="292.04" width="18.17" height="3.65" fill="#eeeaaa"/>
<rect x="464.22" y="292.04" width="18.17" height="3.65" fill="#eeeaaa"/>
<rect x="409.70" y="302.01" width="18.17" height="1.37" fill="#7aa2d4"/>
<rect x="427.88" y="302.01" width="18.17" height="1.37" fill="#7aa2d4"/>
<rect x="446.05" y="302.28" width="18.17" height="1.09" fill="#6792cd"/>
<rect x="464.22" y="301.55" width="18.17" height="1.82" fill="#8fb4d4"/>
<rect x="409.70" y="309.69" width="18.17" height="1.37" fill="#7aa2d4"/>
<rect x="427.88" y="309.69" width="18.17" height="1.37" fill="#7aa2d4"/>
<rect x="446.05" y="309.69" width="18.17" height="1.37" fill="#7aa2d4"/>
<rect x="464.22" y="309.69" width="18.17" height="1.37" fill="#7aa2d4"/>
<rect x="409.70" y="316.93" width="18.17" height="1.82" fill="#8fb4d4"/>
<rect x="427.88" y="316.93" width="18.17" height="1.82" fill="#8fb4d4"/>
<rect x="446.05" y="317.65" width="18.17" height="1.09" fill="#6792cd"/>
<rect x="464.22" y="317.65" width="18.17" height="1.09" fill="#6792cd"/>
<rect x="409.70" y="322.97" width="18.17" height="3.47" fill="#e5e4ac"/>
<rect x="427.88" y="322.97" width="18.17" height="3.47" fill="#e5e4ac"/>
<rect x="446.05" y="322.79" width="18.17" height="3.65" fill="#eeeaaa"/>
<rect x="464.22" y="322.79" width="18.17" height="3.65" fill="#eeeaaa"/>
<rect x="409.70" y="329.11" width="18.17" height="5.02" fill="#f7b688"/>
<rect x="427.88" y="329.11" width="18.17" height="5.02" fill="#f7b688"/>
<rect x="446.05" y="327.92" width="18.17" height="6.21" fill="#ee735b"/>
<rect x="464.22" y="327.92" width="18.17" height="6.21" fill="#ee735b"/>
<rect x="409.70" y="337.25" width="18.17" height="4.56" fill="#f7d59a"/>
<rect x="427.88" y="337.25" width="18.17" height="4.56" fill="#f7d59a"/>
<rect x="446.05" y="336.52" width="18.17" height="5.29" fill="#f5a97e"/>
<rect x="464.22" y="335.61" width="18.17" height="6.21" fill="#ee735b"/>
<rect x="409.70" y="345.67" width="18.17" height="3.83" fill="#f0e8a6"/>
<rect x="427.88" y="345.67" width="18.17" height="3.83" fill="#f0e8a6"/>
<rect x="446.05" y="345.58" width="18.17" height="3.92" fill="#f1e8a4"/>
<rect x="464.22" y="344.66" width="18.17" height="4.84" fill="#f7c28f"/>
<rect x="409.70" y="354.91" width="18.17" height="2.28" fill="#a6c8cc"/>
<rect x="427.88" y="354.45" width="18.17" height="2.74" fill="#c2d2bc"/>
<rect x="446.05" y="352.17" width="18.17" height="5.02" fill="#f7b688"/>
<rect x="464.22" y="352.17" width="18.17" height="5.02" fill="#f7b688"/>
<rect x="409.70" y="359.13" width="18.17" height="5.75" fill="#f28f6d"/>
<rect x="427.88" y="358.94" width="18.17" height="5.93" fill="#f08466"/>
<rect x="446.05" y="358.03" width="18.17" height="6.84" fill="#ec4a3c"/>
<rect x="464.22" y="357.76" width="18.17" height="7.12" fill="#ed382e"/>
<rect x="409.70" y="368.73" width="18.17" height="3.83" fill="#f0e8a6"/>
<rect x="427.88" y="368.73" width="18.17" height="3.83" fill="#f0e8a6"/>
<rect x="446.05" y="367.54" width="18.17" height="5.02" fill="#f7b688"/>
<rect x="464.22" y="367.54" width="18.17" height="5.02" fill="#f7b688"/>
<rect x="409.70" y="376.42" width="18.17" height="3.83" fill="#f0e8a6"/>
<rect x="427.88" y="376.42" width="18.17" height="3.83" fill="#f0e8a6"/>
<rect x="446.05" y="375.41" width="18.17" height="4.84" fill="#f7c28f"/>
<rect x="464.22" y="375.23" width="18.17" height="5.02" fill="#f7b688"/>
<rect x="409.70" y="382.19" width="18.17" height="5.75" fill="#f28f6d"/>
<rect x="427.88" y="382.19" width="18.17" height="5.75" fill="#f28f6d"/>
<rect x="446.05" y="381.73" width="18.17" height="6.21" fill="#ee735b"/>
<rect x="464.22" y="381.73" width="18.17" height="6.21" fill="#ee735b"/>
<rect x="409.70" y="390.33" width="18.17" height="5.29" fill="#f5a97e"/>
<rect x="427.88" y="390.33" width="18.17" height="5.29" fill="#f5a97e"/>
<rect x="446.05" y="389.69" width="18.17" height="5.93" fill="#f08466"/>
<rect x="464.22" y="389.88" width="18.17" height="5.75" fill="#f28f6d"/>
<rect x="409.70" y="397.38" width="18.17" height="5.93" fill="#f08466"/>
<rect x="427.88" y="397.38" width="18.17" height="5.93" fill="#f08466"/>
<rect x="446.05" y="396.93" width="18.17" height="6.39" fill="#ed6854"/>
<rect x="464.22" y="397.11" width="18.17" height="6.21" fill="#ee735b"/>
<rect x="409.70" y="405.98" width="18.17" height="5.02" fill="#f7b688"/>
<rect x="427.88" y="405.98" width="18.17" height="5.02" fill="#f7b688"/>
<rect x="446.05" y="405.52" width="18.17" height="5.47" fill="#f4a078"/>
<rect x="464.22" y="405.71" width="18.17" height="5.29" fill="#f5a97e"/>
<line x1="409.70" x2="482.40" y1="234.19" y2="234.19" stroke="#fff" stroke-opacity="0.7" stroke-width="0.8"/>
<line x1="409.70" x2="482.40" y1="241.88" y2="241.88" stroke="#fff" stroke-opacity="0.7" stroke-width="0.8"/>
<line x1="409.70" x2="482.40" y1="249.56" y2="249.56" stroke="#fff" stroke-opacity="0.7" stroke-width="0.8"/>
<line x1="409.70" x2="482.40" y1="257.25" y2="257.25" stroke="#fff" stroke-opacity="0.7" stroke-width="0.8"/>
<line x1="409.70" x2="482.40" y1="264.94" y2="264.94" stroke="#fff" stroke-opacity="0.7" stroke-width="0.8"/>
<line x1="409.70" x2="482.40" y1="272.62" y2="272.62" stroke="#fff" stroke-opacity="0.7" stroke-width="0.8"/>
<line x1="409.70" x2="482.40" y1="280.31" y2="280.31" stroke="#fff" stroke-opacity="0.7" stroke-width="0.8"/>
<line x1="409.70" x2="482.40" y1="288.00" y2="288.00" stroke="#fff" stroke-opacity="0.7" stroke-width="0.8"/>
<line x1="409.70" x2="482.40" y1="295.69" y2="295.69" stroke="#fff" stroke-opacity="0.7" stroke-width="0.8"/>
<line x1="409.70" x2="482.40" y1="303.38" y2="303.38" stroke="#fff" stroke-opacity="0.7" stroke-width="0.8"/>
<line x1="409.70" x2="482.40" y1="311.06" y2="311.06" stroke="#fff" stroke-opacity="0.7" stroke-width="0.8"/>
<line x1="409.70" x2="482.40" y1="318.75" y2="318.75" stroke="#fff" stroke-opacity="0.7" stroke-width="0.8"/>
<line x1="409.70" x2="482.40" y1="326.44" y2="326.44" stroke="#fff" stroke-opacity="0.7" stroke-width="0.8"/>
<line x1="409.70" x2="482.40" y1="334.12" y2="334.12" stroke="#fff" stroke-opacity="0.7" stroke-width="0.8"/>
<line x1="409.70" x2="482.40" y1="341.81" y2="341.81" stroke="#fff" stroke-opacity="0.7" stroke-width="0.8"/>
<line x1="409.70" x2="482.40" y1="349.50" y2="349.50" stroke="#fff" stroke-opacity="0.7" stroke-width="0.8"/>
<line x1="409.70" x2="482.40" y1="357.19" y2="357.19" stroke="#fff" stroke-opacity="0.7" stroke-width="0.8"/>
<line x1="409.70" x2="482.40" y1="364.88" y2="364.88" stroke="#fff" stroke-opacity="0.7" stroke-width="0.8"/>
<line x1="409.70" x2="482.40" y1="372.56" y2="372.56" stroke="#fff" stroke-opacity="0.7" stroke-width="0.8"/>
<line x1="409.70" x2="482.40" y1="380.25" y2="380.25" stroke="#fff" stroke-opacity="0.7" stroke-width="0.8"/>
<line x1="409.70" x2="482.40" y1="387.94" y2="387.94" stroke="#fff" stroke-opacity="0.7" stroke-width="0.8"/>
<line x1="409.70" x2="482.40" y1="395.62" y2="395.62" stroke="#fff" stroke-opacity="0.7" stroke-width="0.8"/>
<line x1="409.70" x2="482.40" y1="403.31" y2="403.31" stroke="#fff" stroke-opacity="0.7" stroke-width="0.8"/>
<line x1="427.88" x2="427.88" y1="226.50" y2="411.00" stroke="#fff" stroke-opacity="0.8" stroke-width="0.9"/>
<line x1="446.05" x2="446.05" y1="226.50" y2="411.00" stroke="#fff" stroke-opacity="0.8" stroke-width="0.9"/>
<line x1="464.22" x2="464.22" y1="226.50" y2="411.00" stroke="#fff" stroke-opacity="0.8" stroke-width="0.9"/>
<rect x="483.60" y="226.50" width="40.80" height="30.82" fill="#c4f3d3"/>
<rect x="483.60" y="257.32" width="40.80" height="23.11" fill="#7fcf4e"/>
<rect x="483.60" y="280.43" width="40.80" height="15.41" fill="#c6f2f8"/>
<rect x="483.60" y="295.84" width="40.80" height="23.11" fill="#f5c8f1"/>
<rect x="483.60" y="318.95" width="40.80" height="30.82" fill="#cdcff4"/>
<rect x="483.60" y="349.77" width="40.80" height="15.41" fill="#ee3c5c"/>
<rect x="483.60" y="365.17" width="40.80" height="15.41" fill="#fce1de"/>
<rect x="483.60" y="380.58" width="40.80" height="30.82" fill="#f4a59d"/>
<text x="0" y="0" transform="translate(485.20,232.30) scale(0.905,1)" class="gl">BnaAGO4-1</text>
<text x="0" y="0" transform="translate(485.20,240.04) scale(0.905,1)" class="gl">BnaAGO4-2</text>
<text x="0" y="0" transform="translate(485.20,247.77) scale(0.905,1)" class="gl">BnaAGO4-3</text>
<text x="0" y="0" transform="translate(485.20,255.51) scale(0.905,1)" class="gl">BnaAGO4-4</text>
<text x="0" y="0" transform="translate(485.20,263.24) scale(0.905,1)" class="gl">BnaAGO9-1</text>
<text x="0" y="0" transform="translate(485.20,270.98) scale(0.905,1)" class="gl">BnaAGO9-2</text>
<text x="0" y="0" transform="translate(485.20,278.71) scale(0.905,1)" class="gl">BnaAGO9-3</text>
<text x="0" y="0" transform="translate(485.20,286.44) scale(0.905,1)" class="gl">BnaAGO6-1</text>
<text x="0" y="0" transform="translate(485.20,294.18) scale(0.905,1)" class="gl">BnaAGO6-2</text>
<text x="0" y="0" transform="translate(485.20,301.92) scale(0.905,1)" class="gl">BnaAGO7-1</text>
<text x="0" y="0" transform="translate(485.20,309.65) scale(0.905,1)" class="gl">BnaAGO7-2</text>
<text x="0" y="0" transform="translate(485.20,317.38) scale(0.905,1)" class="gl">BnaAGO7-3</text>
<text x="0" y="0" transform="translate(485.20,325.12) scale(0.905,1)" class="gl">BnaAGO2-1</text>
<text x="0" y="0" transform="translate(485.20,332.86) scale(0.905,1)" class="gl">BnaAGO2-2</text>
<text x="0" y="0" transform="translate(485.20,340.59) scale(0.905,1)" class="gl">BnaAGO2-3</text>
<text x="0" y="0" transform="translate(485.20,348.33) scale(0.905,1)" class="gl">BnaAGO2-4</text>
<text x="0" y="0" transform="translate(485.20,356.06) scale(0.905,1)" class="gl">BnaAGO5-1</text>
<text x="0" y="0" transform="translate(485.20,363.80) scale(0.905,1)" class="gl">BnaAGO5-2</text>
<text x="0" y="0" transform="translate(485.20,371.53) scale(0.905,1)" class="gl">BnaAGO10-</text>
<text x="0" y="0" transform="translate(485.20,379.26) scale(0.905,1)" class="gl">BnaAGO10-</text>
<text x="0" y="0" transform="translate(485.20,387.00) scale(0.905,1)" class="gl">BnaAGO1-1</text>
<text x="0" y="0" transform="translate(485.20,394.74) scale(0.905,1)" class="gl">BnaAGO1-2</text>
<text x="0" y="0" transform="translate(485.20,402.47) scale(0.905,1)" class="gl">BnaAGO1-3</text>
<text x="0" y="0" transform="translate(485.20,410.21) scale(0.905,1)" class="gl">BnaAGO1-4</text>
<defs><linearGradient id="gD" x1="0" y1="1" x2="0" y2="0">
<stop offset="0.0000" stop-color="#1c5cb0"/>
<stop offset="0.1250" stop-color="#5281b0"/>
<stop offset="0.2500" stop-color="#89a6b1"/>
<stop offset="0.3750" stop-color="#c0cbb2"/>
<stop offset="0.5000" stop-color="#f6f0b2"/>
<stop offset="0.6250" stop-color="#f2be8e"/>
<stop offset="0.7500" stop-color="#ed8c6b"/>
<stop offset="0.8750" stop-color="#e85a48"/>
<stop offset="1.0000" stop-color="#e42824"/>
</linearGradient></defs>
<rect x="530.00" y="226.80" width="8.00" height="61.90" fill="url(#gD)"/>
<line x1="538.00" x2="539.20" y1="288.70" y2="288.70" stroke="#333" stroke-width="0.4"/>
<text x="540.00" y="290.50" class="tk">0</text>
<line x1="538.00" x2="539.20" y1="279.86" y2="279.86" stroke="#333" stroke-width="0.4"/>
<text x="540.00" y="281.66" class="tk">1</text>
<line x1="538.00" x2="539.20" y1="271.01" y2="271.01" stroke="#333" stroke-width="0.4"/>
<text x="540.00" y="272.81" class="tk">2</text>
<line x1="538.00" x2="539.20" y1="262.17" y2="262.17" stroke="#333" stroke-width="0.4"/>
<text x="540.00" y="263.97" class="tk">3</text>
<line x1="538.00" x2="539.20" y1="253.33" y2="253.33" stroke="#333" stroke-width="0.4"/>
<text x="540.00" y="255.13" class="tk">4</text>
<line x1="538.00" x2="539.20" y1="244.49" y2="244.49" stroke="#333" stroke-width="0.4"/>
<text x="540.00" y="246.29" class="tk">5</text>
<line x1="538.00" x2="539.20" y1="235.64" y2="235.64" stroke="#333" stroke-width="0.4"/>
<text x="540.00" y="237.44" class="tk">6</text>
<line x1="538.00" x2="539.20" y1="226.80" y2="226.80" stroke="#333" stroke-width="0.4"/>
<text x="540.00" y="228.60" class="tk">7</text>
<text transform="translate(421.59,416.30) rotate(-46.5) scale(0.9,1)" text-anchor="end" class="cl">LIEN-Bu</text>
<text transform="translate(439.76,416.30) rotate(-46.5) scale(0.9,1)" text-anchor="end" class="cl">HIEN-Bu</text>
<text transform="translate(457.94,416.30) rotate(-46.5) scale(0.9,1)" text-anchor="end" class="cl">LIEN-Pi</text>
<text transform="translate(476.11,416.30) rotate(-46.5) scale(0.9,1)" text-anchor="end" class="cl">HIEN-Pi</text>
<text transform="translate(3.2,20.6) scale(0.83,1)" class="pl">A</text>
<text transform="translate(4.0,237.1) scale(0.83,1)" class="pl">B</text>
<text transform="translate(216.0,237.1) scale(0.83,1)" class="pl">C</text>
<text transform="translate(392.6,237.1) scale(0.83,1)" class="pl">D</text>
</svg>
</body></html>
